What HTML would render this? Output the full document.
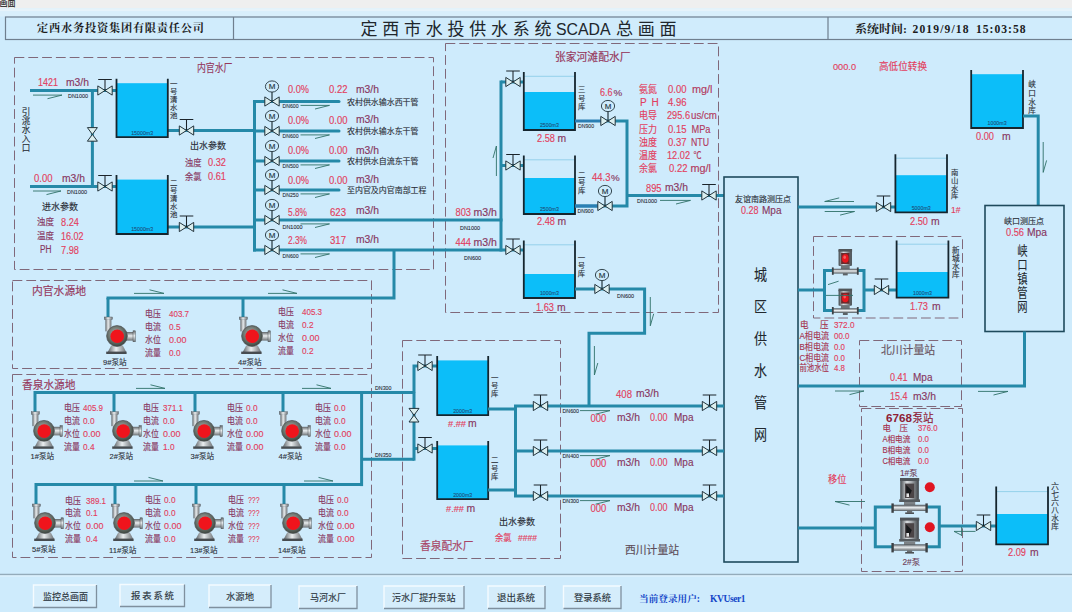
<!DOCTYPE html>
<html lang="zh-CN"><head><meta charset="utf-8"><title>定西市水投供水系统SCADA总画面</title>
<style>
html,body{margin:0;padding:0;background:#ceebfc;overflow:hidden}
svg{display:block;font-family:"Liberation Sans","Noto Sans CJK SC",sans-serif}
</style></head><body>
<svg width="1072" height="612" viewBox="0 0 1072 612">
<defs>
<linearGradient id="gh" x1="0" x2="1" y1="0" y2="0"><stop offset="0" stop-color="#5f6468"/><stop offset="0.45" stop-color="#e9edef"/><stop offset="1" stop-color="#6d7276"/></linearGradient>
<linearGradient id="gv" x1="0" x2="0" y1="0" y2="1"><stop offset="0" stop-color="#5f6468"/><stop offset="0.45" stop-color="#e9edef"/><stop offset="1" stop-color="#6d7276"/></linearGradient>
<radialGradient id="gc" cx="0.45" cy="0.4" r="0.6"><stop offset="0" stop-color="#b4bab6"/><stop offset="1" stop-color="#3c463f"/></radialGradient>
<linearGradient id="gm" x1="0" x2="1" y1="0" y2="0"><stop offset="0" stop-color="#4d5256"/><stop offset="0.35" stop-color="#d9dde0"/><stop offset="0.6" stop-color="#a9aeb2"/><stop offset="1" stop-color="#3f4448"/></linearGradient>

</defs>
<rect width="1072" height="612" fill="#ceebfc"/>
<rect width="1072" height="8.2" fill="#efefef"/>
<rect y="8.2" width="1072" height="3.3" fill="#e6f3fa"/>
<rect y="11.5" width="1072" height="5" fill="#d9effb"/>
<text x="-0.5" y="6" font-size="9.4" fill="#222" stroke="#222" stroke-width="0.15" textLength="16.2" lengthAdjust="spacingAndGlyphs">画面</text>
<rect x="5.5" y="17" width="1080" height="22.5" fill="#d0ecfc" stroke="#6f7f8e" stroke-width="1.2"/>
<path d="M233.5 17V39.5M828 17V39.5" stroke="#6f7f8e" stroke-width="1.2"/>
<text x="37" y="32.4" font-size="11.2" fill="#1c1c1c" textLength="167" lengthAdjust="spacing" font-weight="700" font-family='"Liberation Serif","Noto Serif CJK SC",serif'>定西水务投资集团有限责任公司</text>
<text x="360.4 382.15 403.9 425.65 447.4 469.15 490.9 512.65 534.4" y="34.6" font-size="17" fill="#20262c">定西市水投供水系统</text>
<text x="556" y="34.6" font-size="17" fill="#20262c" stroke="#20262c" stroke-width="0.05" textLength="54.5" lengthAdjust="spacingAndGlyphs">SCADA</text>
<text x="616 637.8 659.4" y="34.6" font-size="17" fill="#20262c">总画面</text>
<text x="855" y="33.2" font-size="10.8" fill="#1c1c1c" textLength="52" lengthAdjust="spacingAndGlyphs" font-weight="700" font-family='"Liberation Serif","Noto Serif CJK SC",serif'>系统时间:</text>
<text x="912.5" y="33.2" font-size="11.6" fill="#1c1c1c" textLength="56" lengthAdjust="spacing" font-weight="bold" font-family='"Liberation Serif","Noto Serif CJK SC",serif'>2019/9/18</text>
<text x="976" y="33.2" font-size="11.6" fill="#1c1c1c" textLength="49.5" lengthAdjust="spacing" font-weight="bold" font-family='"Liberation Serif","Noto Serif CJK SC",serif'>15:03:58</text>
<rect x="14.5" y="57.5" width="419.0" height="212.0" fill="none" stroke="#80687a" stroke-width="1" stroke-dasharray="9.8 4"/>
<rect x="445.5" y="43.5" width="273.0" height="269.0" fill="none" stroke="#80687a" stroke-width="1" stroke-dasharray="9.8 4"/>
<rect x="12.5" y="280.5" width="359.0" height="88.0" fill="none" stroke="#80687a" stroke-width="1" stroke-dasharray="9.8 4"/>
<rect x="12.5" y="374.5" width="359.0" height="183.0" fill="none" stroke="#80687a" stroke-width="1" stroke-dasharray="9.8 4"/>
<rect x="402.5" y="340.5" width="158.0" height="218.0" fill="none" stroke="#80687a" stroke-width="1" stroke-dasharray="9.8 4"/>
<rect x="813.5" y="236.5" width="149.0" height="81.5" fill="none" stroke="#80687a" stroke-width="1" stroke-dasharray="9.8 4"/>
<rect x="859.5" y="340.5" width="102.0" height="66.0" fill="none" stroke="#80687a" stroke-width="1" stroke-dasharray="9.8 4"/>
<rect x="861.5" y="408.5" width="101.0" height="163.0" fill="none" stroke="#80687a" stroke-width="1" stroke-dasharray="9.8 4"/>
<text x="197" y="72" font-size="11.6" fill="#96385c" stroke="#96385c" stroke-width="0.15" textLength="35.5" lengthAdjust="spacingAndGlyphs">内官水厂</text>
<polyline points="30,90.5 116,90.5" fill="none" stroke="#2589a8" stroke-width="3" stroke-linejoin="miter" stroke-linecap="butt"/>
<polyline points="30,186.5 116,186.5" fill="none" stroke="#2589a8" stroke-width="3" stroke-linejoin="miter" stroke-linecap="butt"/>
<polyline points="92.4,90.5 92.4,186.5" fill="none" stroke="#2589a8" stroke-width="3" stroke-linejoin="miter" stroke-linecap="butt"/>
<polyline points="168,130.5 254.5,130.5" fill="none" stroke="#2589a8" stroke-width="3" stroke-linejoin="miter" stroke-linecap="butt"/>
<polyline points="168,227 254.5,227" fill="none" stroke="#2589a8" stroke-width="3" stroke-linejoin="miter" stroke-linecap="butt"/>
<polyline points="254.5,100 254.5,251.5" fill="none" stroke="#2589a8" stroke-width="3" stroke-linejoin="miter" stroke-linecap="butt"/>
<polyline points="254.5,101.5 339,101.5" fill="none" stroke="#2589a8" stroke-width="3" stroke-linejoin="miter" stroke-linecap="round"/>
<polyline points="254.5,131 339,131" fill="none" stroke="#2589a8" stroke-width="3" stroke-linejoin="miter" stroke-linecap="round"/>
<polyline points="254.5,161 339,161" fill="none" stroke="#2589a8" stroke-width="3" stroke-linejoin="miter" stroke-linecap="round"/>
<polyline points="254.5,190 339,190" fill="none" stroke="#2589a8" stroke-width="3" stroke-linejoin="miter" stroke-linecap="round"/>
<polyline points="253,220 502.5,220" fill="none" stroke="#2589a8" stroke-width="3" stroke-linejoin="miter" stroke-linecap="butt"/>
<polyline points="253,250 523,250" fill="none" stroke="#2589a8" stroke-width="3" stroke-linejoin="miter" stroke-linecap="butt"/>
<polyline points="394,250 394,298 106.5,298" fill="none" stroke="#2589a8" stroke-width="3" stroke-linejoin="miter" stroke-linecap="butt"/>
<rect x="116.5" y="83.2" width="51.30000000000001" height="53.999999999999986" fill="#0cbef9"/>
<path d="M116.5 78.8V137.2H167.8V78.8" fill="none" stroke="#15252e" stroke-width="1.8" stroke-linejoin="miter"/>
<text x="142.15" y="134.6" font-size="5.6" fill="#1d4f7a" stroke="#1d4f7a" stroke-width="0.1" textLength="22" lengthAdjust="spacingAndGlyphs" text-anchor="middle">15000m3</text>
<rect x="116.5" y="179.6" width="51.30000000000001" height="54.400000000000006" fill="#0cbef9"/>
<path d="M116.5 175V234H167.8V175" fill="none" stroke="#15252e" stroke-width="1.8" stroke-linejoin="miter"/>
<text x="142.15" y="231.4" font-size="5.6" fill="#1d4f7a" stroke="#1d4f7a" stroke-width="0.1" textLength="22" lengthAdjust="spacingAndGlyphs" text-anchor="middle">15000m3</text>
<path d="M97.8 85.9L105 90.5L97.8 95.1ZM112.2 85.9L105 90.5L112.2 95.1Z" fill="#dcefef" stroke="#23343c" stroke-width="1" stroke-linejoin="miter"/>
<path d="M105 90.5V79.5M98.2 79.5H111.8" fill="none" stroke="#1b242a" stroke-width="1.05"/>
<path d="M97.8 181.9L105 186.5L97.8 191.1ZM112.2 181.9L105 186.5L112.2 191.1Z" fill="#dcefef" stroke="#23343c" stroke-width="1" stroke-linejoin="miter"/>
<path d="M105 186.5V175.5M98.2 175.5H111.8" fill="none" stroke="#1b242a" stroke-width="1.05"/>
<path d="M87.4 127.60000000000001L92.4 134.4L97.4 127.60000000000001ZM87.4 141.20000000000002L92.4 134.4L97.4 141.20000000000002Z" fill="#dcefef" stroke="#23343c" stroke-width="1" stroke-linejoin="miter"/>
<path d="M179.3 125.9L186.5 130.5L179.3 135.1ZM193.7 125.9L186.5 130.5L193.7 135.1Z" fill="#dcefef" stroke="#23343c" stroke-width="1" stroke-linejoin="miter"/>
<path d="M186.5 130.5V119.5M179.7 119.5H193.3" fill="none" stroke="#1b242a" stroke-width="1.05"/>
<path d="M179.3 222.4L186.5 227L179.3 231.6ZM193.7 222.4L186.5 227L193.7 231.6Z" fill="#dcefef" stroke="#23343c" stroke-width="1" stroke-linejoin="miter"/>
<path d="M186.5 227V216M179.7 216H193.3" fill="none" stroke="#1b242a" stroke-width="1.05"/>
<path d="M264.8 96.9L272 101.5L264.8 106.1ZM279.2 96.9L272 101.5L279.2 106.1Z" fill="#dcefef" stroke="#23343c" stroke-width="1" stroke-linejoin="miter"/>
<path d="M272 101.5V92.0" stroke="#23343c" stroke-width="1.2"/>
<ellipse cx="272" cy="86.5" rx="6.6" ry="5.6" fill="#ceebfc" stroke="#23343c" stroke-width="0.9"/>
<text x="272" y="89.4" font-size="8" fill="#22363f" stroke="#22363f" stroke-width="0.15" text-anchor="middle">M</text>
<path d="M264.8 126.4L272 131L264.8 135.6ZM279.2 126.4L272 131L279.2 135.6Z" fill="#dcefef" stroke="#23343c" stroke-width="1" stroke-linejoin="miter"/>
<path d="M272 131V121.5" stroke="#23343c" stroke-width="1.2"/>
<ellipse cx="272" cy="116" rx="6.6" ry="5.6" fill="#ceebfc" stroke="#23343c" stroke-width="0.9"/>
<text x="272" y="118.9" font-size="8" fill="#22363f" stroke="#22363f" stroke-width="0.15" text-anchor="middle">M</text>
<path d="M264.8 156.4L272 161L264.8 165.6ZM279.2 156.4L272 161L279.2 165.6Z" fill="#dcefef" stroke="#23343c" stroke-width="1" stroke-linejoin="miter"/>
<path d="M272 161V151.5" stroke="#23343c" stroke-width="1.2"/>
<ellipse cx="272" cy="146" rx="6.6" ry="5.6" fill="#ceebfc" stroke="#23343c" stroke-width="0.9"/>
<text x="272" y="148.9" font-size="8" fill="#22363f" stroke="#22363f" stroke-width="0.15" text-anchor="middle">M</text>
<path d="M264.8 185.4L272 190L264.8 194.6ZM279.2 185.4L272 190L279.2 194.6Z" fill="#dcefef" stroke="#23343c" stroke-width="1" stroke-linejoin="miter"/>
<path d="M272 190V180.5" stroke="#23343c" stroke-width="1.2"/>
<ellipse cx="272" cy="175" rx="6.6" ry="5.6" fill="#ceebfc" stroke="#23343c" stroke-width="0.9"/>
<text x="272" y="177.9" font-size="8" fill="#22363f" stroke="#22363f" stroke-width="0.15" text-anchor="middle">M</text>
<path d="M264.8 215.4L272 220L264.8 224.6ZM279.2 215.4L272 220L279.2 224.6Z" fill="#dcefef" stroke="#23343c" stroke-width="1" stroke-linejoin="miter"/>
<path d="M272 220V210.5" stroke="#23343c" stroke-width="1.2"/>
<ellipse cx="272" cy="205" rx="6.6" ry="5.6" fill="#ceebfc" stroke="#23343c" stroke-width="0.9"/>
<text x="272" y="207.9" font-size="8" fill="#22363f" stroke="#22363f" stroke-width="0.15" text-anchor="middle">M</text>
<path d="M264.8 245.4L272 250L264.8 254.6ZM279.2 245.4L272 250L279.2 254.6Z" fill="#dcefef" stroke="#23343c" stroke-width="1" stroke-linejoin="miter"/>
<path d="M272 250V240.5" stroke="#23343c" stroke-width="1.2"/>
<ellipse cx="272" cy="235" rx="6.6" ry="5.6" fill="#ceebfc" stroke="#23343c" stroke-width="0.9"/>
<text x="272" y="237.9" font-size="8" fill="#22363f" stroke="#22363f" stroke-width="0.15" text-anchor="middle">M</text>
<text x="38" y="86" font-size="10.3" fill="#e23f60" stroke="#e23f60" stroke-width="0.15" textLength="20" lengthAdjust="spacingAndGlyphs">1421</text>
<text x="66" y="86" font-size="10.4" fill="#883862" stroke="#883862" stroke-width="0.15" textLength="23" lengthAdjust="spacingAndGlyphs">m3/h</text>
<text x="34" y="181.8" font-size="10.3" fill="#e23f60" stroke="#e23f60" stroke-width="0.15" textLength="18.5" lengthAdjust="spacingAndGlyphs">0.00</text>
<text x="62" y="181.6" font-size="10.4" fill="#883862" stroke="#883862" stroke-width="0.15" textLength="23" lengthAdjust="spacingAndGlyphs">m3/h</text>
<text x="68" y="98" font-size="5.8" fill="#2b2f38" stroke="#2b2f38" stroke-width="0.1" textLength="20" lengthAdjust="spacingAndGlyphs">DN1000</text>
<text x="67" y="194.4" font-size="5.8" fill="#2b2f38" stroke="#2b2f38" stroke-width="0.1" textLength="20" lengthAdjust="spacingAndGlyphs">DN1000</text>
<path d="M33 95.1H62L47.5 98.69999999999999" fill="none" stroke="#2f7068" stroke-width="0.9" stroke-linejoin="miter"/>
<path d="M33 191H61L46.5 194.6" fill="none" stroke="#2f7068" stroke-width="0.9" stroke-linejoin="miter"/>
<text font-size="8.6" fill="#2b2f38" stroke="#2b2f38" stroke-width="0.12" text-anchor="middle"><tspan x="26" y="114.6">引</tspan><tspan x="26" y="123.7">洮</tspan><tspan x="26" y="132.8">水</tspan><tspan x="26" y="141.9">入</tspan><tspan x="26" y="151.0">口</tspan></text>
<text font-size="7.4" fill="#2b2f38" stroke="#2b2f38" stroke-width="0.12" text-anchor="middle"><tspan x="173.8" y="85.6">一</tspan><tspan x="173.8" y="93.6">号</tspan><tspan x="173.8" y="101.6">清</tspan><tspan x="173.8" y="109.6">水</tspan><tspan x="173.8" y="117.6">池</tspan></text>
<text font-size="7.4" fill="#2b2f38" stroke="#2b2f38" stroke-width="0.12" text-anchor="middle"><tspan x="173.8" y="184.7">二</tspan><tspan x="173.8" y="192.7">号</tspan><tspan x="173.8" y="200.7">清</tspan><tspan x="173.8" y="208.7">水</tspan><tspan x="173.8" y="216.7">池</tspan></text>
<text x="190" y="149.4" font-size="9.6" fill="#2b2f38" stroke="#2b2f38" stroke-width="0.15" textLength="36" lengthAdjust="spacingAndGlyphs">出水参数</text>
<text x="185" y="166" font-size="9.6" fill="#883862" stroke="#883862" stroke-width="0.15" textLength="16.5" lengthAdjust="spacingAndGlyphs">浊度</text>
<text x="208" y="166" font-size="10.3" fill="#e23f60" stroke="#e23f60" stroke-width="0.15" textLength="18" lengthAdjust="spacingAndGlyphs">0.32</text>
<text x="185" y="180" font-size="9.6" fill="#883862" stroke="#883862" stroke-width="0.15" textLength="16.5" lengthAdjust="spacingAndGlyphs">余氯</text>
<text x="208" y="180" font-size="10.3" fill="#e23f60" stroke="#e23f60" stroke-width="0.15" textLength="18" lengthAdjust="spacingAndGlyphs">0.61</text>
<text x="42" y="210" font-size="9.6" fill="#2b2f38" stroke="#2b2f38" stroke-width="0.15" textLength="36" lengthAdjust="spacingAndGlyphs">进水参数</text>
<text x="37" y="225.4" font-size="9.6" fill="#883862" stroke="#883862" stroke-width="0.15" textLength="17" lengthAdjust="spacingAndGlyphs">浊度</text>
<text x="61" y="225.6" font-size="10.3" fill="#e23f60" stroke="#e23f60" stroke-width="0.15" textLength="18" lengthAdjust="spacingAndGlyphs">8.24</text>
<text x="37" y="239.4" font-size="9.6" fill="#883862" stroke="#883862" stroke-width="0.15" textLength="17" lengthAdjust="spacingAndGlyphs">温度</text>
<text x="61" y="239.6" font-size="10.3" fill="#e23f60" stroke="#e23f60" stroke-width="0.15" textLength="22.5" lengthAdjust="spacingAndGlyphs">16.02</text>
<text x="40" y="252.8" font-size="10" fill="#883862" stroke="#883862" stroke-width="0.15" textLength="11.5" lengthAdjust="spacingAndGlyphs">PH</text>
<text x="61" y="253.6" font-size="10.3" fill="#e23f60" stroke="#e23f60" stroke-width="0.15" textLength="18" lengthAdjust="spacingAndGlyphs">7.98</text>
<text x="288" y="93.2" font-size="10.3" fill="#e23f60" stroke="#e23f60" stroke-width="0.15" textLength="21" lengthAdjust="spacingAndGlyphs">0.0%</text>
<text x="329" y="93.2" font-size="10.3" fill="#e23f60" stroke="#e23f60" stroke-width="0.15" textLength="18.5" lengthAdjust="spacingAndGlyphs">0.22</text>
<text x="356" y="92.60000000000001" font-size="10.4" fill="#883862" stroke="#883862" stroke-width="0.15" textLength="23" lengthAdjust="spacingAndGlyphs">m3/h</text>
<text x="282.5" y="108.3" font-size="5.6" fill="#2b2f38" stroke="#2b2f38" stroke-width="0.1" textLength="16" lengthAdjust="spacingAndGlyphs">DN600</text>
<path d="M300.5 105.4H329.5L315.0 109.0" fill="none" stroke="#2f7068" stroke-width="0.9" stroke-linejoin="miter"/>
<text x="347" y="104.7" font-size="8" fill="#2b2f38" stroke="#2b2f38" stroke-width="0.12" textLength="71.5" lengthAdjust="spacingAndGlyphs">农村供水输水西干管</text>
<text x="288" y="123.9" font-size="10.3" fill="#e23f60" stroke="#e23f60" stroke-width="0.15" textLength="21" lengthAdjust="spacingAndGlyphs">0.0%</text>
<text x="329" y="123.9" font-size="10.3" fill="#e23f60" stroke="#e23f60" stroke-width="0.15" textLength="18.5" lengthAdjust="spacingAndGlyphs">0.00</text>
<text x="356" y="123.30000000000001" font-size="10.4" fill="#883862" stroke="#883862" stroke-width="0.15" textLength="23" lengthAdjust="spacingAndGlyphs">m3/h</text>
<text x="282.5" y="137.8" font-size="5.6" fill="#2b2f38" stroke="#2b2f38" stroke-width="0.1" textLength="16" lengthAdjust="spacingAndGlyphs">DN600</text>
<path d="M300.5 134.9H329.5L315.0 138.5" fill="none" stroke="#2f7068" stroke-width="0.9" stroke-linejoin="miter"/>
<text x="347" y="134.2" font-size="8" fill="#2b2f38" stroke="#2b2f38" stroke-width="0.12" textLength="71.5" lengthAdjust="spacingAndGlyphs">农村供水输水东干管</text>
<text x="288" y="154.1" font-size="10.3" fill="#e23f60" stroke="#e23f60" stroke-width="0.15" textLength="21" lengthAdjust="spacingAndGlyphs">0.0%</text>
<text x="329" y="154.1" font-size="10.3" fill="#e23f60" stroke="#e23f60" stroke-width="0.15" textLength="18.5" lengthAdjust="spacingAndGlyphs">0.00</text>
<text x="356" y="153.5" font-size="10.4" fill="#883862" stroke="#883862" stroke-width="0.15" textLength="23" lengthAdjust="spacingAndGlyphs">m3/h</text>
<text x="282.5" y="167.8" font-size="5.6" fill="#2b2f38" stroke="#2b2f38" stroke-width="0.1" textLength="16" lengthAdjust="spacingAndGlyphs">DN500</text>
<path d="M300.5 164.9H329.5L315.0 168.5" fill="none" stroke="#2f7068" stroke-width="0.9" stroke-linejoin="miter"/>
<text x="347" y="164.2" font-size="8" fill="#2b2f38" stroke="#2b2f38" stroke-width="0.12" textLength="71.5" lengthAdjust="spacingAndGlyphs">农村供水自流东干管</text>
<text x="288" y="183.7" font-size="10.3" fill="#e23f60" stroke="#e23f60" stroke-width="0.15" textLength="21" lengthAdjust="spacingAndGlyphs">0.0%</text>
<text x="329" y="183.7" font-size="10.3" fill="#e23f60" stroke="#e23f60" stroke-width="0.15" textLength="18.5" lengthAdjust="spacingAndGlyphs">0.00</text>
<text x="356" y="183.1" font-size="10.4" fill="#883862" stroke="#883862" stroke-width="0.15" textLength="23" lengthAdjust="spacingAndGlyphs">m3/h</text>
<text x="282.5" y="196.8" font-size="5.6" fill="#2b2f38" stroke="#2b2f38" stroke-width="0.1" textLength="16" lengthAdjust="spacingAndGlyphs">DN250</text>
<path d="M300.5 193.9H329.5L315.0 197.5" fill="none" stroke="#2f7068" stroke-width="0.9" stroke-linejoin="miter"/>
<text x="347" y="193.2" font-size="8" fill="#2b2f38" stroke="#2b2f38" stroke-width="0.12" textLength="79.5" lengthAdjust="spacingAndGlyphs">至内官及内官南部工程</text>
<text x="288" y="215.8" font-size="10.3" fill="#e23f60" stroke="#e23f60" stroke-width="0.15" textLength="19" lengthAdjust="spacingAndGlyphs">5.8%</text>
<text x="330" y="215.8" font-size="10.3" fill="#e23f60" stroke="#e23f60" stroke-width="0.15" textLength="16" lengthAdjust="spacingAndGlyphs">623</text>
<text x="356" y="213.70000000000002" font-size="10.4" fill="#883862" stroke="#883862" stroke-width="0.15" textLength="23" lengthAdjust="spacingAndGlyphs">m3/h</text>
<text x="282.5" y="229.0" font-size="5.6" fill="#2b2f38" stroke="#2b2f38" stroke-width="0.1" textLength="20" lengthAdjust="spacingAndGlyphs">DN1000</text>
<path d="M300.5 223.9H329.5L315.0 227.5" fill="none" stroke="#2f7068" stroke-width="0.9" stroke-linejoin="miter"/>
<text x="288" y="243.6" font-size="10.3" fill="#e23f60" stroke="#e23f60" stroke-width="0.15" textLength="19" lengthAdjust="spacingAndGlyphs">2.3%</text>
<text x="330" y="243.6" font-size="10.3" fill="#e23f60" stroke="#e23f60" stroke-width="0.15" textLength="16" lengthAdjust="spacingAndGlyphs">317</text>
<text x="356" y="243.0" font-size="10.4" fill="#883862" stroke="#883862" stroke-width="0.15" textLength="23" lengthAdjust="spacingAndGlyphs">m3/h</text>
<text x="282.5" y="257.8" font-size="5.6" fill="#2b2f38" stroke="#2b2f38" stroke-width="0.1" textLength="16" lengthAdjust="spacingAndGlyphs">DN600</text>
<path d="M300.5 253.9H329.5L315.0 257.5" fill="none" stroke="#2f7068" stroke-width="0.9" stroke-linejoin="miter"/>
<text x="455.5" y="215.6" font-size="10.3" fill="#e23f60" stroke="#e23f60" stroke-width="0.15" textLength="15.5" lengthAdjust="spacingAndGlyphs">803</text>
<text x="473.5" y="215.6" font-size="10.4" fill="#883862" stroke="#883862" stroke-width="0.15" textLength="23.5" lengthAdjust="spacingAndGlyphs">m3/h</text>
<text x="455.5" y="245.6" font-size="10.3" fill="#e23f60" stroke="#e23f60" stroke-width="0.15" textLength="15.5" lengthAdjust="spacingAndGlyphs">444</text>
<text x="473.5" y="245.6" font-size="10.4" fill="#883862" stroke="#883862" stroke-width="0.15" textLength="23.5" lengthAdjust="spacingAndGlyphs">m3/h</text>
<text x="460" y="230.2" font-size="5.8" fill="#2b2f38" stroke="#2b2f38" stroke-width="0.1" textLength="20" lengthAdjust="spacingAndGlyphs">DN1000</text>
<text x="464" y="259.6" font-size="5.8" fill="#2b2f38" stroke="#2b2f38" stroke-width="0.1" textLength="17" lengthAdjust="spacingAndGlyphs">DN600</text>
<text x="555" y="61" font-size="11" fill="#96385c" stroke="#96385c" stroke-width="0.15" textLength="75.5" lengthAdjust="spacingAndGlyphs">张家河滩配水厂</text>
<polyline points="501,80.5 501,251.5" fill="none" stroke="#2589a8" stroke-width="3" stroke-linejoin="miter" stroke-linecap="butt"/>
<polyline points="501,82 523,82" fill="none" stroke="#2589a8" stroke-width="3" stroke-linejoin="miter" stroke-linecap="butt"/>
<polyline points="501,165.5 523,165.5" fill="none" stroke="#2589a8" stroke-width="3" stroke-linejoin="miter" stroke-linecap="butt"/>
<path d="M496.4 176V146L493.0 158" fill="none" stroke="#2f7068" stroke-width="0.9" stroke-linejoin="miter"/>
<rect x="523.8" y="92" width="51.200000000000045" height="38" fill="#0cbef9"/>
<path d="M523.8 76.3H575" stroke="#86c9e6" stroke-width="0.8"/>
<path d="M523.8 72V130H575V72" fill="none" stroke="#15252e" stroke-width="1.8" stroke-linejoin="miter"/>
<text x="549.4" y="127.4" font-size="5.6" fill="#1d4f7a" stroke="#1d4f7a" stroke-width="0.1" textLength="19" lengthAdjust="spacingAndGlyphs" text-anchor="middle">2500m3</text>
<rect x="523.8" y="178" width="51.200000000000045" height="36" fill="#0cbef9"/>
<path d="M523.8 159.8H575" stroke="#86c9e6" stroke-width="0.8"/>
<path d="M523.8 155.5V214H575V155.5" fill="none" stroke="#15252e" stroke-width="1.8" stroke-linejoin="miter"/>
<text x="549.4" y="211.4" font-size="5.6" fill="#1d4f7a" stroke="#1d4f7a" stroke-width="0.1" textLength="19" lengthAdjust="spacingAndGlyphs" text-anchor="middle">2500m3</text>
<rect x="523.8" y="274" width="51.200000000000045" height="24" fill="#0cbef9"/>
<path d="M523.8 244.8H575" stroke="#86c9e6" stroke-width="0.8"/>
<path d="M523.8 240.5V298H575V240.5" fill="none" stroke="#15252e" stroke-width="1.8" stroke-linejoin="miter"/>
<text x="549.4" y="295.4" font-size="5.6" fill="#1d4f7a" stroke="#1d4f7a" stroke-width="0.1" textLength="19" lengthAdjust="spacingAndGlyphs" text-anchor="middle">1000m3</text>
<path d="M505.8 77.4L513 82L505.8 86.6ZM520.2 77.4L513 82L520.2 86.6Z" fill="#dcefef" stroke="#23343c" stroke-width="1" stroke-linejoin="miter"/>
<path d="M513 82V71M506.2 71H519.8" fill="none" stroke="#1b242a" stroke-width="1.05"/>
<path d="M505.8 160.9L513 165.5L505.8 170.1ZM520.2 160.9L513 165.5L520.2 170.1Z" fill="#dcefef" stroke="#23343c" stroke-width="1" stroke-linejoin="miter"/>
<path d="M513 165.5V154.5M506.2 154.5H519.8" fill="none" stroke="#1b242a" stroke-width="1.05"/>
<path d="M505.8 245.4L513 250L505.8 254.6ZM520.2 245.4L513 250L520.2 254.6Z" fill="#dcefef" stroke="#23343c" stroke-width="1" stroke-linejoin="miter"/>
<path d="M513 250V239M506.2 239H519.8" fill="none" stroke="#1b242a" stroke-width="1.05"/>
<polyline points="575,121 601,121" fill="none" stroke="#2a7fb4" stroke-width="3" stroke-linejoin="miter" stroke-linecap="butt"/>
<polyline points="601,121 627,121 627,206 575,206" fill="none" stroke="#2589a8" stroke-width="3" stroke-linejoin="miter" stroke-linecap="butt"/>
<polyline points="575,206 598,206" fill="none" stroke="#2a7fb4" stroke-width="3" stroke-linejoin="miter" stroke-linecap="butt"/>
<polyline points="627,195.5 724,195.5" fill="none" stroke="#2589a8" stroke-width="3" stroke-linejoin="miter" stroke-linecap="butt"/>
<polyline points="575,289 644.6,289 644.6,333.2 589,333.2 589,406" fill="none" stroke="#2589a8" stroke-width="3" stroke-linejoin="miter" stroke-linecap="butt"/>
<path d="M600.8 116.4L608 121L600.8 125.6ZM615.2 116.4L608 121L615.2 125.6Z" fill="#dcefef" stroke="#23343c" stroke-width="1" stroke-linejoin="miter"/>
<path d="M608 121V111.5" stroke="#23343c" stroke-width="1.2"/>
<ellipse cx="608" cy="106" rx="6.6" ry="5.6" fill="#ceebfc" stroke="#23343c" stroke-width="0.9"/>
<text x="608" y="108.9" font-size="8" fill="#22363f" stroke="#22363f" stroke-width="0.15" text-anchor="middle">M</text>
<path d="M597.8 201.4L605 206L597.8 210.6ZM612.2 201.4L605 206L612.2 210.6Z" fill="#dcefef" stroke="#23343c" stroke-width="1" stroke-linejoin="miter"/>
<path d="M605 206V196.5" stroke="#23343c" stroke-width="1.2"/>
<ellipse cx="605" cy="191" rx="6.6" ry="5.6" fill="#ceebfc" stroke="#23343c" stroke-width="0.9"/>
<text x="605" y="193.9" font-size="8" fill="#22363f" stroke="#22363f" stroke-width="0.15" text-anchor="middle">M</text>
<path d="M594.8 284.4L602 289L594.8 293.6ZM609.2 284.4L602 289L609.2 293.6Z" fill="#dcefef" stroke="#23343c" stroke-width="1" stroke-linejoin="miter"/>
<path d="M602 289V280.5" stroke="#23343c" stroke-width="1.2"/>
<ellipse cx="602" cy="275" rx="6.6" ry="5.6" fill="#ceebfc" stroke="#23343c" stroke-width="0.9"/>
<text x="602" y="277.9" font-size="8" fill="#22363f" stroke="#22363f" stroke-width="0.15" text-anchor="middle">M</text>
<path d="M701.8 190.9L709 195.5L701.8 200.1ZM716.2 190.9L709 195.5L716.2 200.1Z" fill="#dcefef" stroke="#23343c" stroke-width="1" stroke-linejoin="miter"/>
<path d="M709 195.5V184.5M702.2 184.5H715.8" fill="none" stroke="#1b242a" stroke-width="1.05"/>
<text font-size="7.4" fill="#2b2f38" stroke="#2b2f38" stroke-width="0.12" text-anchor="middle"><tspan x="581.6" y="92.2">三</tspan><tspan x="581.6" y="100.5">号</tspan><tspan x="581.6" y="108.8">库</tspan></text>
<text font-size="7.4" fill="#2b2f38" stroke="#2b2f38" stroke-width="0.12" text-anchor="middle"><tspan x="581.6" y="176.8">二</tspan><tspan x="581.6" y="185.0">号</tspan><tspan x="581.6" y="193.2">库</tspan></text>
<text font-size="7.4" fill="#2b2f38" stroke="#2b2f38" stroke-width="0.12" text-anchor="middle"><tspan x="581.4" y="260.0">一</tspan><tspan x="581.4" y="268.2">号</tspan><tspan x="581.4" y="276.4">库</tspan></text>
<text x="578" y="127.6" font-size="5.6" fill="#2b2f38" stroke="#2b2f38" stroke-width="0.1" textLength="16" lengthAdjust="spacingAndGlyphs">DN900</text>
<text x="577.5" y="213.4" font-size="5.6" fill="#2b2f38" stroke="#2b2f38" stroke-width="0.1" textLength="16" lengthAdjust="spacingAndGlyphs">DN900</text>
<text x="617" y="297.6" font-size="5.6" fill="#2b2f38" stroke="#2b2f38" stroke-width="0.1" textLength="17" lengthAdjust="spacingAndGlyphs">DN600</text>
<text x="537" y="141.6" font-size="10.3" fill="#e23f60" stroke="#e23f60" stroke-width="0.15" textLength="18" lengthAdjust="spacingAndGlyphs">2.58</text>
<text x="557.5" y="141.6" font-size="10.4" fill="#883862" stroke="#883862" stroke-width="0.15">m</text>
<text x="537" y="224.8" font-size="10.3" fill="#e23f60" stroke="#e23f60" stroke-width="0.15" textLength="18" lengthAdjust="spacingAndGlyphs">2.48</text>
<text x="557.5" y="224.8" font-size="10.4" fill="#883862" stroke="#883862" stroke-width="0.15">m</text>
<text x="536" y="311.2" font-size="10.3" fill="#e23f60" stroke="#e23f60" stroke-width="0.15" textLength="18" lengthAdjust="spacingAndGlyphs">1.63</text>
<text x="557" y="311.2" font-size="10.4" fill="#883862" stroke="#883862" stroke-width="0.15">m</text>
<text x="600" y="96.4" font-size="10.3" fill="#e23f60" stroke="#e23f60" stroke-width="0.15" textLength="12.5" lengthAdjust="spacingAndGlyphs">6.6</text>
<text x="613.6" y="96.4" font-size="9.8" fill="#883862" stroke="#883862" stroke-width="0.15">%</text>
<text x="592" y="181.4" font-size="10.3" fill="#e23f60" stroke="#e23f60" stroke-width="0.15" textLength="18.5" lengthAdjust="spacingAndGlyphs">44.3</text>
<text x="611" y="181.4" font-size="9.8" fill="#883862" stroke="#883862" stroke-width="0.15">%</text>
<text x="639" y="92.8" font-size="10.3" fill="#e23f60" stroke="#e23f60" stroke-width="0.15" textLength="18" lengthAdjust="spacingAndGlyphs">氨氮</text>
<text x="668" y="92.8" font-size="10.3" fill="#e23f60" stroke="#e23f60" stroke-width="0.15" textLength="18.5" lengthAdjust="spacingAndGlyphs">0.00</text>
<text x="692" y="92.8" font-size="10.4" fill="#b23a60" stroke="#b23a60" stroke-width="0.15" textLength="20.5" lengthAdjust="spacingAndGlyphs">mg/l</text>
<text x="640" y="106" font-size="10" fill="#e23f60" stroke="#e23f60" stroke-width="0.15">P</text>
<text x="651.5" y="106" font-size="10" fill="#e23f60" stroke="#e23f60" stroke-width="0.15">H</text>
<text x="668" y="106" font-size="10.3" fill="#e23f60" stroke="#e23f60" stroke-width="0.15" textLength="18.5" lengthAdjust="spacingAndGlyphs">4.96</text>
<text x="639" y="119.4" font-size="10.3" fill="#e23f60" stroke="#e23f60" stroke-width="0.15" textLength="18" lengthAdjust="spacingAndGlyphs">电导</text>
<text x="667" y="119.4" font-size="10.3" fill="#e23f60" stroke="#e23f60" stroke-width="0.15" textLength="23" lengthAdjust="spacingAndGlyphs">295.6</text>
<text x="691" y="119.4" font-size="10.4" fill="#b23a60" stroke="#b23a60" stroke-width="0.15" textLength="26" lengthAdjust="spacingAndGlyphs">us/cm</text>
<text x="639" y="132.6" font-size="10.3" fill="#e23f60" stroke="#e23f60" stroke-width="0.15" textLength="18" lengthAdjust="spacingAndGlyphs">压力</text>
<text x="668" y="132.6" font-size="10.3" fill="#e23f60" stroke="#e23f60" stroke-width="0.15" textLength="18.5" lengthAdjust="spacingAndGlyphs">0.15</text>
<text x="691.5" y="132.6" font-size="10.4" fill="#b23a60" stroke="#b23a60" stroke-width="0.15" textLength="19" lengthAdjust="spacingAndGlyphs">MPa</text>
<text x="639" y="145.8" font-size="10.3" fill="#e23f60" stroke="#e23f60" stroke-width="0.15" textLength="18" lengthAdjust="spacingAndGlyphs">浊度</text>
<text x="668" y="145.8" font-size="10.3" fill="#e23f60" stroke="#e23f60" stroke-width="0.15" textLength="18.5" lengthAdjust="spacingAndGlyphs">0.37</text>
<text x="691" y="145.8" font-size="10.4" fill="#b23a60" stroke="#b23a60" stroke-width="0.15" textLength="18" lengthAdjust="spacingAndGlyphs">NTU</text>
<text x="639" y="158.8" font-size="10.3" fill="#e23f60" stroke="#e23f60" stroke-width="0.15" textLength="18" lengthAdjust="spacingAndGlyphs">温度</text>
<text x="667" y="158.8" font-size="10.3" fill="#e23f60" stroke="#e23f60" stroke-width="0.15" textLength="23" lengthAdjust="spacingAndGlyphs">12.02</text>
<text x="693.5" y="158.8" font-size="10.4" fill="#b23a60" stroke="#b23a60" stroke-width="0.15" textLength="8" lengthAdjust="spacingAndGlyphs">℃</text>
<text x="639" y="172" font-size="10.3" fill="#e23f60" stroke="#e23f60" stroke-width="0.15" textLength="18" lengthAdjust="spacingAndGlyphs">余氯</text>
<text x="669" y="172" font-size="10.3" fill="#e23f60" stroke="#e23f60" stroke-width="0.15" textLength="18.5" lengthAdjust="spacingAndGlyphs">0.22</text>
<text x="690.5" y="172" font-size="10.4" fill="#b23a60" stroke="#b23a60" stroke-width="0.15" textLength="20.5" lengthAdjust="spacingAndGlyphs">mg/l</text>
<text x="646" y="191.6" font-size="10.3" fill="#e23f60" stroke="#e23f60" stroke-width="0.15" textLength="15.5" lengthAdjust="spacingAndGlyphs">895</text>
<text x="665" y="191.4" font-size="10.4" fill="#883862" stroke="#883862" stroke-width="0.15" textLength="23" lengthAdjust="spacingAndGlyphs">m3/h</text>
<text x="637" y="202.8" font-size="5.8" fill="#2b2f38" stroke="#2b2f38" stroke-width="0.1" textLength="20" lengthAdjust="spacingAndGlyphs">DN1000</text>
<path d="M660 200.4H690.5L676.0 204.0" fill="none" stroke="#2f7068" stroke-width="0.9" stroke-linejoin="miter"/>
<path d="M650.3 297V325.8L653.6999999999999 313.8" fill="none" stroke="#2f7068" stroke-width="0.9" stroke-linejoin="miter"/>
<path d="M594.4 346V375L597.8 363" fill="none" stroke="#2f7068" stroke-width="0.9" stroke-linejoin="miter"/>
<rect x="724" y="177" width="74" height="385" fill="#ceebfc" stroke="#1f4a5c" stroke-width="1.6"/>
<text x="735" y="202.4" font-size="8.2" fill="#2b2f38" stroke="#2b2f38" stroke-width="0.12" textLength="56" lengthAdjust="spacingAndGlyphs">友谊南路测压点</text>
<text x="741" y="214.4" font-size="10.3" fill="#e23f60" stroke="#e23f60" stroke-width="0.15" textLength="17.5" lengthAdjust="spacingAndGlyphs">0.28</text>
<text x="762" y="214.4" font-size="10.4" fill="#883862" stroke="#883862" stroke-width="0.15" textLength="19.5" lengthAdjust="spacingAndGlyphs">Mpa</text>
<text font-size="14.8" fill="#22282e" stroke="#22282e" stroke-width="0.08" text-anchor="middle" transform="translate(760.6 0) scale(0.88 1)"><tspan x="0" y="280">城</tspan><tspan x="0" y="312">区</tspan><tspan x="0" y="344">供</tspan><tspan x="0" y="376">水</tspan><tspan x="0" y="408">管</tspan><tspan x="0" y="440">网</tspan></text>
<text x="833" y="69.8" font-size="9.6" fill="#e23f60" stroke="#e23f60" stroke-width="0.15" textLength="23" lengthAdjust="spacingAndGlyphs">000.0</text>
<text x="879" y="70.4" font-size="10" fill="#e23f60" stroke="#e23f60" stroke-width="0.15" textLength="48" lengthAdjust="spacingAndGlyphs">高低位转换</text>
<rect x="971.2" y="74.2" width="51.799999999999955" height="53.8" fill="#0cbef9"/>
<path d="M971.2 70V128H1023V70" fill="none" stroke="#15252e" stroke-width="1.8" stroke-linejoin="miter"/>
<text x="997.1" y="125.4" font-size="5.6" fill="#1d4f7a" stroke="#1d4f7a" stroke-width="0.1" textLength="19" lengthAdjust="spacingAndGlyphs" text-anchor="middle">1000m3</text>
<text font-size="7.6" fill="#2b2f38" stroke="#2b2f38" stroke-width="0.12" text-anchor="middle"><tspan x="1032" y="87.4">峡</tspan><tspan x="1032" y="96.0">口</tspan><tspan x="1032" y="104.6">水</tspan><tspan x="1032" y="113.2">库</tspan></text>
<polyline points="1023,116 1038.2,116 1038.2,206" fill="none" stroke="#2589a8" stroke-width="3" stroke-linejoin="miter" stroke-linecap="butt"/>
<text x="976" y="139.8" font-size="10.3" fill="#e23f60" stroke="#e23f60" stroke-width="0.15" textLength="18" lengthAdjust="spacingAndGlyphs">0.00</text>
<text x="1002" y="139.8" font-size="10.4" fill="#883862" stroke="#883862" stroke-width="0.15">m</text>
<path d="M1043.2 142V172.4L1046.6000000000001 160.4" fill="none" stroke="#2f7068" stroke-width="0.9" stroke-linejoin="miter"/>
<polyline points="798,207 895,207" fill="none" stroke="#2589a8" stroke-width="3" stroke-linejoin="miter" stroke-linecap="butt"/>
<rect x="895.4" y="175.2" width="51.60000000000002" height="37.20000000000002" fill="#0cbef9"/>
<path d="M895.4 158.2H947" stroke="#86c9e6" stroke-width="0.8"/>
<path d="M895.4 154.2V212.4H947V154.2" fill="none" stroke="#15252e" stroke-width="1.8" stroke-linejoin="miter"/>
<text x="921.2" y="209.8" font-size="5.6" fill="#1d4f7a" stroke="#1d4f7a" stroke-width="0.1" textLength="19" lengthAdjust="spacingAndGlyphs" text-anchor="middle">5000m3</text>
<path d="M876.3 202.4L883.5 207L876.3 211.6ZM890.7 202.4L883.5 207L890.7 211.6Z" fill="#dcefef" stroke="#23343c" stroke-width="1" stroke-linejoin="miter"/>
<path d="M883.5 207V196M876.7 196H890.3" fill="none" stroke="#1b242a" stroke-width="1.05"/>
<path d="M854 201.5H824.7L839.2 197.9" fill="none" stroke="#2f7068" stroke-width="0.9" stroke-linejoin="miter"/>
<path d="M824.7 211.5H854.6L840.1 215.1" fill="none" stroke="#2f7068" stroke-width="0.9" stroke-linejoin="miter"/>
<text font-size="7.4" fill="#2b2f38" stroke="#2b2f38" stroke-width="0.12" text-anchor="middle"><tspan x="954.6" y="175.0">南</tspan><tspan x="954.6" y="182.8">山</tspan><tspan x="954.6" y="190.6">水</tspan><tspan x="954.6" y="198.4">库</tspan></text>
<text x="951" y="212.6" font-size="8.6" fill="#e23f60" stroke="#e23f60" stroke-width="0.12">1#</text>
<text x="910" y="224.8" font-size="10.3" fill="#e23f60" stroke="#e23f60" stroke-width="0.15" textLength="18" lengthAdjust="spacingAndGlyphs">2.50</text>
<text x="931" y="224.8" font-size="10.4" fill="#883862" stroke="#883862" stroke-width="0.15">m</text>
<rect x="985" y="205.5" width="79" height="126" fill="#ceebfc" stroke="#1f4a5c" stroke-width="1.6"/>
<text x="1004" y="224" font-size="8.2" fill="#2b2f38" stroke="#2b2f38" stroke-width="0.12" textLength="40" lengthAdjust="spacingAndGlyphs">峡口测压点</text>
<text x="1006" y="236.4" font-size="10.3" fill="#e23f60" stroke="#e23f60" stroke-width="0.15" textLength="18" lengthAdjust="spacingAndGlyphs">0.56</text>
<text x="1027" y="236.4" font-size="10.4" fill="#883862" stroke="#883862" stroke-width="0.15" textLength="20" lengthAdjust="spacingAndGlyphs">Mpa</text>
<text font-size="12.6" fill="#22282e" stroke="#22282e" stroke-width="0.08" text-anchor="middle" transform="translate(1022.4 0) scale(0.82 1)"><tspan x="0" y="255.2">峡</tspan><tspan x="0" y="269.2">口</tspan><tspan x="0" y="283.2">镇</tspan><tspan x="0" y="297.2">管</tspan><tspan x="0" y="311.2">网</tspan></text>
<polyline points="1024.5,331.5 1024.5,386 798,386" fill="none" stroke="#2589a8" stroke-width="3" stroke-linejoin="miter" stroke-linecap="butt"/>
<polyline points="798,290 824.5,290" fill="none" stroke="#2589a8" stroke-width="3" stroke-linejoin="miter" stroke-linecap="butt"/>
<polyline points="864,290 896,290" fill="none" stroke="#2589a8" stroke-width="3" stroke-linejoin="miter" stroke-linecap="butt"/>
<rect x="824.5" y="270.5" width="39.5" height="40" fill="none" stroke="#2589a8" stroke-width="3"/>
<rect x="896.6" y="272" width="51.799999999999955" height="25.600000000000023" fill="#0cbef9"/>
<path d="M896.6 244.2H948.4" stroke="#86c9e6" stroke-width="0.8"/>
<path d="M896.6 240.6V297.6H948.4V240.6" fill="none" stroke="#15252e" stroke-width="1.8" stroke-linejoin="miter"/>
<text x="922.5" y="295.0" font-size="5.6" fill="#1d4f7a" stroke="#1d4f7a" stroke-width="0.1" textLength="19" lengthAdjust="spacingAndGlyphs" text-anchor="middle">1000m3</text>
<path d="M874.3 285.4L881.5 290L874.3 294.6ZM888.7 285.4L881.5 290L888.7 294.6Z" fill="#dcefef" stroke="#23343c" stroke-width="1" stroke-linejoin="miter"/>
<path d="M881.5 290V279M874.7 279H888.3" fill="none" stroke="#1b242a" stroke-width="1.05"/>
<text font-size="7.6" fill="#2b2f38" stroke="#2b2f38" stroke-width="0.12" text-anchor="middle"><tspan x="955.8" y="252.6">新</tspan><tspan x="955.8" y="260.6">城</tspan><tspan x="955.8" y="268.6">水</tspan><tspan x="955.8" y="276.6">库</tspan></text>
<text x="910" y="309.6" font-size="10.3" fill="#e23f60" stroke="#e23f60" stroke-width="0.15" textLength="18" lengthAdjust="spacingAndGlyphs">1.73</text>
<text x="932" y="309.6" font-size="10.4" fill="#883862" stroke="#883862" stroke-width="0.15">m</text>
<rect x="838.9" y="250.5" width="12.8" height="15.2" fill="url(#gm)" stroke="#3c4145" stroke-width="0.5"/>
<rect x="838.5" y="249" width="13.6" height="2.6" fill="#51565a"/>
<rect x="841.0999999999999" y="253" width="8.4" height="11" fill="#6a2a2c"/>
<ellipse cx="845.3" cy="258.4" rx="3.3" ry="4.3" fill="#e8161e"/>
<ellipse cx="844.6999999999999" cy="257.2" rx="1.3" ry="1.8" fill="#f4605e"/>
<rect x="840.9" y="265.7" width="8.8" height="3.4" fill="#6f7478"/>
<rect x="832.9" y="269" width="24.8" height="4.2" fill="url(#gv)" stroke="#3c4145" stroke-width="0.4"/>
<rect x="831.9" y="267.4" width="1.8" height="7.4" fill="#3c4145"/><rect x="856.9" y="267.4" width="1.8" height="7.4" fill="#3c4145"/>
<rect x="842.9" y="273.2" width="4.8" height="2.2" fill="#5c6165"/>
<rect x="838.9" y="290.1" width="12.8" height="15.2" fill="url(#gm)" stroke="#3c4145" stroke-width="0.5"/>
<rect x="838.5" y="288.6" width="13.6" height="2.6" fill="#51565a"/>
<rect x="841.0999999999999" y="292.6" width="8.4" height="11" fill="#6a2a2c"/>
<ellipse cx="845.3" cy="298.0" rx="3.3" ry="4.3" fill="#e8161e"/>
<ellipse cx="844.6999999999999" cy="296.8" rx="1.3" ry="1.8" fill="#f4605e"/>
<rect x="840.9" y="305.3" width="8.8" height="3.4" fill="#6f7478"/>
<rect x="832.9" y="308.6" width="24.8" height="4.2" fill="url(#gv)" stroke="#3c4145" stroke-width="0.4"/>
<rect x="831.9" y="307.0" width="1.8" height="7.4" fill="#3c4145"/><rect x="856.9" y="307.0" width="1.8" height="7.4" fill="#3c4145"/>
<rect x="842.9" y="312.8" width="4.8" height="2.2" fill="#5c6165"/>
<path d="M828 284.6L838.6 281.2M826 295.4H853" fill="none" stroke="#2f7068" stroke-width="0.9"/>
<text x="800" y="327.6" font-size="8.6" fill="#a5304c" stroke="#a5304c" stroke-width="0.12">电</text>
<text x="820" y="327.6" font-size="8.6" fill="#a5304c" stroke="#a5304c" stroke-width="0.12">压</text>
<text x="834" y="327.6" font-size="8.8" fill="#e23f60" stroke="#e23f60" stroke-width="0.15" textLength="20.5" lengthAdjust="spacingAndGlyphs">372.0</text>
<text x="799.5" y="338.6" font-size="8.6" fill="#a5304c" stroke="#a5304c" stroke-width="0.12" textLength="29.5" lengthAdjust="spacingAndGlyphs">A相电流</text>
<text x="834" y="338.6" font-size="8.8" fill="#e23f60" stroke="#e23f60" stroke-width="0.15" textLength="15.5" lengthAdjust="spacingAndGlyphs">00.0</text>
<text x="799.5" y="349.6" font-size="8.6" fill="#a5304c" stroke="#a5304c" stroke-width="0.12" textLength="29.5" lengthAdjust="spacingAndGlyphs">B相电流</text>
<text x="834" y="349.6" font-size="8.8" fill="#e23f60" stroke="#e23f60" stroke-width="0.15" textLength="11" lengthAdjust="spacingAndGlyphs">0.0</text>
<text x="799.5" y="360.6" font-size="8.6" fill="#a5304c" stroke="#a5304c" stroke-width="0.12" textLength="29.5" lengthAdjust="spacingAndGlyphs">C相电流</text>
<text x="834" y="360.6" font-size="8.8" fill="#e23f60" stroke="#e23f60" stroke-width="0.15" textLength="11" lengthAdjust="spacingAndGlyphs">0.0</text>
<text x="799.5" y="370.6" font-size="8.6" fill="#a5304c" stroke="#a5304c" stroke-width="0.12" textLength="29.5" lengthAdjust="spacingAndGlyphs">前池水位</text>
<text x="834" y="370.6" font-size="8.8" fill="#e23f60" stroke="#e23f60" stroke-width="0.15" textLength="11" lengthAdjust="spacingAndGlyphs">4.8</text>
<text x="881" y="354.2" font-size="11.4" fill="#6a5562" stroke="#6a5562" stroke-width="0.15" textLength="54" lengthAdjust="spacingAndGlyphs">北川计量站</text>
<text x="890" y="380.6" font-size="10.3" fill="#e23f60" stroke="#e23f60" stroke-width="0.15" textLength="17.5" lengthAdjust="spacingAndGlyphs">0.41</text>
<text x="913" y="380.6" font-size="10.4" fill="#883862" stroke="#883862" stroke-width="0.15" textLength="19.5" lengthAdjust="spacingAndGlyphs">Mpa</text>
<text x="890" y="399.6" font-size="10.3" fill="#e23f60" stroke="#e23f60" stroke-width="0.15" textLength="17.5" lengthAdjust="spacingAndGlyphs">15.4</text>
<text x="913" y="399.6" font-size="10.4" fill="#883862" stroke="#883862" stroke-width="0.15" textLength="23" lengthAdjust="spacingAndGlyphs">m3/h</text>
<path d="M835 391H864L849.5 394.6" fill="none" stroke="#2f7068" stroke-width="0.9" stroke-linejoin="miter"/>
<path d="M978 391.4H1008L993.5 395.0" fill="none" stroke="#2f7068" stroke-width="0.9" stroke-linejoin="miter"/>
<text x="886" y="422.4" font-size="11.6" fill="#8e2136" textLength="26" lengthAdjust="spacingAndGlyphs" font-weight="bold">6768</text>
<text x="912.6" y="422.4" font-size="11.4" fill="#8e2136" stroke="#8e2136" stroke-width="0.15" textLength="21" lengthAdjust="spacingAndGlyphs">泵站</text>
<text x="882.6" y="431.4" font-size="8.4" fill="#a5304c" stroke="#a5304c" stroke-width="0.12">电</text>
<text x="899.4" y="431.4" font-size="8.4" fill="#a5304c" stroke="#a5304c" stroke-width="0.12">压</text>
<text x="918" y="431.4" font-size="8.8" fill="#e23f60" stroke="#e23f60" stroke-width="0.15" textLength="19.5" lengthAdjust="spacingAndGlyphs">376.0</text>
<text x="882.4" y="442.4" font-size="8.4" fill="#a5304c" stroke="#a5304c" stroke-width="0.12" textLength="28" lengthAdjust="spacingAndGlyphs">A相电流</text>
<text x="918" y="442.4" font-size="8.8" fill="#e23f60" stroke="#e23f60" stroke-width="0.15" textLength="11" lengthAdjust="spacingAndGlyphs">0.0</text>
<text x="882.4" y="453.4" font-size="8.4" fill="#a5304c" stroke="#a5304c" stroke-width="0.12" textLength="28" lengthAdjust="spacingAndGlyphs">B相电流</text>
<text x="918" y="453.4" font-size="8.8" fill="#e23f60" stroke="#e23f60" stroke-width="0.15" textLength="11" lengthAdjust="spacingAndGlyphs">0.0</text>
<text x="882.4" y="464.4" font-size="8.4" fill="#a5304c" stroke="#a5304c" stroke-width="0.12" textLength="28" lengthAdjust="spacingAndGlyphs">C相电流</text>
<text x="918" y="464.4" font-size="8.8" fill="#e23f60" stroke="#e23f60" stroke-width="0.15" textLength="11" lengthAdjust="spacingAndGlyphs">0.0</text>
<text x="828" y="483" font-size="10" fill="#e23f60" stroke="#e23f60" stroke-width="0.15" textLength="18.5" lengthAdjust="spacingAndGlyphs">移位</text>
<polyline points="798,528 875,528" fill="none" stroke="#2589a8" stroke-width="3" stroke-linejoin="miter" stroke-linecap="butt"/>
<rect x="875.3" y="507" width="64" height="39.8" fill="none" stroke="#2589a8" stroke-width="3"/>
<polyline points="939.3,526 996,526" fill="none" stroke="#2589a8" stroke-width="3" stroke-linejoin="miter" stroke-linecap="butt"/>
<path d="M865 501.5H835L849.5 505.1" fill="none" stroke="#2f7068" stroke-width="0.9" stroke-linejoin="miter"/>
<rect x="900.6" y="480" width="18" height="20.4" fill="url(#gm)" stroke="#3c4145" stroke-width="0.5"/>
<rect x="900.0" y="478" width="19.2" height="3" fill="#50555a"/>
<rect x="905.0" y="483.6" width="9.2" height="14.4" fill="#4b4547"/>
<path d="M906.2 485l5.6 5.4l-2.6 5.8h-3z" fill="#17191b"/>
<rect x="906.4" y="493.4" width="2.6" height="3.6" fill="#e6e6e6"/>
<rect x="899.2" y="499.4" width="20.8" height="2.6" fill="#555a5e"/>
<rect x="904.0" y="502" width="11.2" height="3.2" fill="#7d8286"/>
<rect x="892.6" y="505" width="34" height="5.8" fill="url(#gv)" stroke="#3c4145" stroke-width="0.4"/>
<rect x="891.4" y="503.4" width="2.4" height="9.4" fill="#3c4145"/><rect x="925.4" y="503.4" width="2.4" height="9.4" fill="#3c4145"/>
<rect x="907.0" y="510.8" width="5.2" height="2" fill="#6a6f73"/><rect x="905.2" y="512.4" width="8.8" height="1.6" fill="#4c5155"/>
<rect x="900.6" y="519.6" width="18" height="20.4" fill="url(#gm)" stroke="#3c4145" stroke-width="0.5"/>
<rect x="900.0" y="517.6" width="19.2" height="3" fill="#50555a"/>
<rect x="905.0" y="523.2" width="9.2" height="14.4" fill="#4b4547"/>
<path d="M906.2 524.6l5.6 5.4l-2.6 5.8h-3z" fill="#17191b"/>
<rect x="906.4" y="533.0" width="2.6" height="3.6" fill="#e6e6e6"/>
<rect x="899.2" y="539.0" width="20.8" height="2.6" fill="#555a5e"/>
<rect x="904.0" y="541.6" width="11.2" height="3.2" fill="#7d8286"/>
<rect x="892.6" y="544.6" width="34" height="5.8" fill="url(#gv)" stroke="#3c4145" stroke-width="0.4"/>
<rect x="891.4" y="543.0" width="2.4" height="9.4" fill="#3c4145"/><rect x="925.4" y="543.0" width="2.4" height="9.4" fill="#3c4145"/>
<rect x="907.0" y="550.4" width="5.2" height="2" fill="#6a6f73"/><rect x="905.2" y="552.0" width="8.8" height="1.6" fill="#4c5155"/>
<circle cx="929.8" cy="487.3" r="5" fill="#e01522"/><circle cx="929.8" cy="527.3" r="5" fill="#e01522"/>
<text x="900" y="476" font-size="8.4" fill="#6e3e58" stroke="#6e3e58" stroke-width="0.12" textLength="17.5" lengthAdjust="spacingAndGlyphs">1#泵</text>
<text x="902.5" y="565" font-size="8.4" fill="#6e3e58" stroke="#6e3e58" stroke-width="0.12" textLength="17.5" lengthAdjust="spacingAndGlyphs">2#泵</text>
<path d="M976.3 521.4L983.5 526L976.3 530.6ZM990.7 521.4L983.5 526L990.7 530.6Z" fill="#dcefef" stroke="#23343c" stroke-width="1" stroke-linejoin="miter"/>
<path d="M983.5 526V515M976.7 515H990.3" fill="none" stroke="#1b242a" stroke-width="1.05"/>
<rect x="996.2" y="514" width="51.799999999999955" height="30.399999999999977" fill="#0cbef9"/>
<path d="M996.2 491.6H1048" stroke="#86c9e6" stroke-width="0.8"/>
<path d="M996.2 486.6V544.4H1048V486.6" fill="none" stroke="#15252e" stroke-width="1.8" stroke-linejoin="miter"/>
<text font-size="7.6" fill="#2b2f38" stroke="#2b2f38" stroke-width="0.12" text-anchor="middle"><tspan x="1055" y="489.2">六</tspan><tspan x="1055" y="497.1">七</tspan><tspan x="1055" y="505.0">六</tspan><tspan x="1055" y="512.9">八</tspan><tspan x="1055" y="520.8">水</tspan><tspan x="1055" y="528.7">库</tspan></text>
<text x="1008" y="556.4" font-size="10.3" fill="#e23f60" stroke="#e23f60" stroke-width="0.15" textLength="18" lengthAdjust="spacingAndGlyphs">2.09</text>
<text x="1030" y="556.4" font-size="10.4" fill="#883862" stroke="#883862" stroke-width="0.15">m</text>
<path d="M975.5 531.4H954L961.5 535.2M961.6 527V536" fill="none" stroke="#2f7068" stroke-width="0.9"/>
<text x="32" y="295.4" font-size="11.6" fill="#96385c" stroke="#96385c" stroke-width="0.15" textLength="54" lengthAdjust="spacingAndGlyphs">内官水源地</text>
<path d="M134 293.4H164L149.5 289.79999999999995" fill="none" stroke="#2f7068" stroke-width="0.9" stroke-linejoin="miter"/>
<path d="M268 293.4H297L282.5 289.79999999999995" fill="none" stroke="#2f7068" stroke-width="0.9" stroke-linejoin="miter"/>
<polyline points="108,298 108,318" fill="none" stroke="#2589a8" stroke-width="3" stroke-linejoin="miter" stroke-linecap="butt"/>
<polyline points="243,298 243,318" fill="none" stroke="#2589a8" stroke-width="3" stroke-linejoin="miter" stroke-linecap="butt"/>
<g transform="translate(108 317)"><rect x="-3.6" y="0" width="8" height="2.6" fill="url(#gh)" stroke="#4a4f54" stroke-width="0.4"/>
 <rect x="-2.6" y="2.4" width="6" height="12" fill="url(#gh)"/>
 <rect x="14" y="15" width="12.4" height="8.6" fill="url(#gv)"/>
 <rect x="25" y="13.8" width="2.4" height="11" fill="url(#gv)" stroke="#3f4448" stroke-width="0.4"/>
 <path d="M3.2 28.5h11.6l3.4 6.4h-18.4z" fill="url(#gh)"/>
 <rect x="-1.8" y="34.6" width="20.4" height="2.4" fill="#474c50"/>
 <circle cx="9" cy="19" r="10.4" fill="url(#gc)" stroke="#4a4f52" stroke-width="0.7"/>
 <circle cx="9.2" cy="19.3" r="6.8" fill="#f0141c"/></g>
<g transform="translate(243 317)"><rect x="-3.6" y="0" width="8" height="2.6" fill="url(#gh)" stroke="#4a4f54" stroke-width="0.4"/>
 <rect x="-2.6" y="2.4" width="6" height="12" fill="url(#gh)"/>
 <rect x="14" y="15" width="12.4" height="8.6" fill="url(#gv)"/>
 <rect x="25" y="13.8" width="2.4" height="11" fill="url(#gv)" stroke="#3f4448" stroke-width="0.4"/>
 <path d="M3.2 28.5h11.6l3.4 6.4h-18.4z" fill="url(#gh)"/>
 <rect x="-1.8" y="34.6" width="20.4" height="2.4" fill="#474c50"/>
 <circle cx="9" cy="19" r="10.4" fill="url(#gc)" stroke="#4a4f52" stroke-width="0.7"/>
 <circle cx="9.2" cy="19.3" r="6.8" fill="#f0141c"/></g>
<text x="103" y="364.6" font-size="8" fill="#2b2f38" stroke="#2b2f38" stroke-width="0.12" textLength="23.5" lengthAdjust="spacingAndGlyphs">9#泵站</text>
<text x="238" y="364.6" font-size="8" fill="#2b2f38" stroke="#2b2f38" stroke-width="0.12" textLength="23.5" lengthAdjust="spacingAndGlyphs">4#泵站</text>
<text x="145" y="316.5" font-size="8.8" fill="#883862" stroke="#883862" stroke-width="0.15" textLength="15.8" lengthAdjust="spacingAndGlyphs">电压</text>
<text x="169" y="316.5" font-size="9.6" fill="#e23f60" stroke="#e23f60" stroke-width="0.15" textLength="20" lengthAdjust="spacingAndGlyphs">403.7</text>
<text x="145" y="329.5" font-size="8.8" fill="#883862" stroke="#883862" stroke-width="0.15" textLength="15.8" lengthAdjust="spacingAndGlyphs">电流</text>
<text x="169" y="329.5" font-size="9.6" fill="#e23f60" stroke="#e23f60" stroke-width="0.15" textLength="11.5" lengthAdjust="spacingAndGlyphs">0.5</text>
<text x="145" y="342.5" font-size="8.8" fill="#883862" stroke="#883862" stroke-width="0.15" textLength="15.8" lengthAdjust="spacingAndGlyphs">水位</text>
<text x="169" y="342.5" font-size="9.6" fill="#e23f60" stroke="#e23f60" stroke-width="0.15" textLength="17.5" lengthAdjust="spacingAndGlyphs">0.00</text>
<text x="145" y="355.5" font-size="8.8" fill="#883862" stroke="#883862" stroke-width="0.15" textLength="15.8" lengthAdjust="spacingAndGlyphs">流量</text>
<text x="169" y="355.5" font-size="9.6" fill="#e23f60" stroke="#e23f60" stroke-width="0.15" textLength="11.5" lengthAdjust="spacingAndGlyphs">0.0</text>
<text x="278" y="315.0" font-size="8.8" fill="#883862" stroke="#883862" stroke-width="0.15" textLength="15.8" lengthAdjust="spacingAndGlyphs">电压</text>
<text x="302" y="315.0" font-size="9.6" fill="#e23f60" stroke="#e23f60" stroke-width="0.15" textLength="20" lengthAdjust="spacingAndGlyphs">405.3</text>
<text x="278" y="328.0" font-size="8.8" fill="#883862" stroke="#883862" stroke-width="0.15" textLength="15.8" lengthAdjust="spacingAndGlyphs">电流</text>
<text x="302" y="328.0" font-size="9.6" fill="#e23f60" stroke="#e23f60" stroke-width="0.15" textLength="11.5" lengthAdjust="spacingAndGlyphs">0.2</text>
<text x="278" y="341.0" font-size="8.8" fill="#883862" stroke="#883862" stroke-width="0.15" textLength="15.8" lengthAdjust="spacingAndGlyphs">水位</text>
<text x="302" y="341.0" font-size="9.6" fill="#e23f60" stroke="#e23f60" stroke-width="0.15" textLength="17.5" lengthAdjust="spacingAndGlyphs">0.00</text>
<text x="278" y="354.0" font-size="8.8" fill="#883862" stroke="#883862" stroke-width="0.15" textLength="15.8" lengthAdjust="spacingAndGlyphs">流量</text>
<text x="302" y="354.0" font-size="9.6" fill="#e23f60" stroke="#e23f60" stroke-width="0.15" textLength="11.5" lengthAdjust="spacingAndGlyphs">0.2</text>
<text x="22" y="388.6" font-size="11.6" fill="#96385c" stroke="#96385c" stroke-width="0.15" textLength="53.5" lengthAdjust="spacingAndGlyphs">香泉水源地</text>
<path d="M136 388.4H165L150.5 384.79999999999995" fill="none" stroke="#2f7068" stroke-width="0.9" stroke-linejoin="miter"/>
<path d="M302 388.4H331L316.5 384.79999999999995" fill="none" stroke="#2f7068" stroke-width="0.9" stroke-linejoin="miter"/>
<path d="M134 481H163L148.5 477.4" fill="none" stroke="#2f7068" stroke-width="0.9" stroke-linejoin="miter"/>
<path d="M304 481H333L318.5 477.4" fill="none" stroke="#2f7068" stroke-width="0.9" stroke-linejoin="miter"/>
<polyline points="35,412 35,392.5 414,392.5" fill="none" stroke="#2589a8" stroke-width="3" stroke-linejoin="miter" stroke-linecap="butt"/>
<polyline points="36,504 36,484.6 361.6,484.6" fill="none" stroke="#2589a8" stroke-width="3" stroke-linejoin="miter" stroke-linecap="butt"/>
<polyline points="361.6,391 361.6,486.1" fill="none" stroke="#2589a8" stroke-width="3" stroke-linejoin="miter" stroke-linecap="butt"/>
<polyline points="361.6,459.2 414,459.2" fill="none" stroke="#2589a8" stroke-width="3" stroke-linejoin="miter" stroke-linecap="butt"/>
<polyline points="114,392.5 114,412" fill="none" stroke="#2589a8" stroke-width="3" stroke-linejoin="miter" stroke-linecap="butt"/>
<polyline points="195,392.5 195,412" fill="none" stroke="#2589a8" stroke-width="3" stroke-linejoin="miter" stroke-linecap="butt"/>
<polyline points="283,392.5 283,412" fill="none" stroke="#2589a8" stroke-width="3" stroke-linejoin="miter" stroke-linecap="butt"/>
<polyline points="115,484.6 115,505" fill="none" stroke="#2589a8" stroke-width="3" stroke-linejoin="miter" stroke-linecap="butt"/>
<polyline points="196,484.6 196,505" fill="none" stroke="#2589a8" stroke-width="3" stroke-linejoin="miter" stroke-linecap="butt"/>
<polyline points="284,484.6 284,505" fill="none" stroke="#2589a8" stroke-width="3" stroke-linejoin="miter" stroke-linecap="butt"/>
<g transform="translate(35 411.8)"><rect x="-3.6" y="0" width="8" height="2.6" fill="url(#gh)" stroke="#4a4f54" stroke-width="0.4"/>
 <rect x="-2.6" y="2.4" width="6" height="12" fill="url(#gh)"/>
 <rect x="14" y="15" width="12.4" height="8.6" fill="url(#gv)"/>
 <rect x="25" y="13.8" width="2.4" height="11" fill="url(#gv)" stroke="#3f4448" stroke-width="0.4"/>
 <path d="M3.2 28.5h11.6l3.4 6.4h-18.4z" fill="url(#gh)"/>
 <rect x="-1.8" y="34.6" width="20.4" height="2.4" fill="#474c50"/>
 <circle cx="9" cy="19" r="10.4" fill="url(#gc)" stroke="#4a4f52" stroke-width="0.7"/>
 <circle cx="9.2" cy="19.3" r="6.8" fill="#f0141c"/></g>
<text x="30.5" y="458.8" font-size="8" fill="#2b2f38" stroke="#2b2f38" stroke-width="0.12" textLength="23.5" lengthAdjust="spacingAndGlyphs">1#泵站</text>
<text x="64" y="410.5" font-size="8.8" fill="#883862" stroke="#883862" stroke-width="0.15" textLength="15.8" lengthAdjust="spacingAndGlyphs">电压</text>
<text x="83" y="410.5" font-size="9.6" fill="#e23f60" stroke="#e23f60" stroke-width="0.15" textLength="20" lengthAdjust="spacingAndGlyphs">405.9</text>
<text x="64" y="423.5" font-size="8.8" fill="#883862" stroke="#883862" stroke-width="0.15" textLength="15.8" lengthAdjust="spacingAndGlyphs">电流</text>
<text x="83" y="423.5" font-size="9.6" fill="#e23f60" stroke="#e23f60" stroke-width="0.15" textLength="11.5" lengthAdjust="spacingAndGlyphs">0.0</text>
<text x="64" y="436.5" font-size="8.8" fill="#883862" stroke="#883862" stroke-width="0.15" textLength="15.8" lengthAdjust="spacingAndGlyphs">水位</text>
<text x="83" y="436.5" font-size="9.6" fill="#e23f60" stroke="#e23f60" stroke-width="0.15" textLength="17.5" lengthAdjust="spacingAndGlyphs">0.00</text>
<text x="64" y="449.5" font-size="8.8" fill="#883862" stroke="#883862" stroke-width="0.15" textLength="15.8" lengthAdjust="spacingAndGlyphs">流量</text>
<text x="83" y="449.5" font-size="9.6" fill="#e23f60" stroke="#e23f60" stroke-width="0.15" textLength="11.5" lengthAdjust="spacingAndGlyphs">0.4</text>
<g transform="translate(114 411.8)"><rect x="-3.6" y="0" width="8" height="2.6" fill="url(#gh)" stroke="#4a4f54" stroke-width="0.4"/>
 <rect x="-2.6" y="2.4" width="6" height="12" fill="url(#gh)"/>
 <rect x="14" y="15" width="12.4" height="8.6" fill="url(#gv)"/>
 <rect x="25" y="13.8" width="2.4" height="11" fill="url(#gv)" stroke="#3f4448" stroke-width="0.4"/>
 <path d="M3.2 28.5h11.6l3.4 6.4h-18.4z" fill="url(#gh)"/>
 <rect x="-1.8" y="34.6" width="20.4" height="2.4" fill="#474c50"/>
 <circle cx="9" cy="19" r="10.4" fill="url(#gc)" stroke="#4a4f52" stroke-width="0.7"/>
 <circle cx="9.2" cy="19.3" r="6.8" fill="#f0141c"/></g>
<text x="109.5" y="458.8" font-size="8" fill="#2b2f38" stroke="#2b2f38" stroke-width="0.12" textLength="23.5" lengthAdjust="spacingAndGlyphs">2#泵站</text>
<text x="143" y="410.5" font-size="8.8" fill="#883862" stroke="#883862" stroke-width="0.15" textLength="15.8" lengthAdjust="spacingAndGlyphs">电压</text>
<text x="163" y="410.5" font-size="9.6" fill="#e23f60" stroke="#e23f60" stroke-width="0.15" textLength="20" lengthAdjust="spacingAndGlyphs">371.1</text>
<text x="143" y="423.5" font-size="8.8" fill="#883862" stroke="#883862" stroke-width="0.15" textLength="15.8" lengthAdjust="spacingAndGlyphs">电流</text>
<text x="163" y="423.5" font-size="9.6" fill="#e23f60" stroke="#e23f60" stroke-width="0.15" textLength="11.5" lengthAdjust="spacingAndGlyphs">0.0</text>
<text x="143" y="436.5" font-size="8.8" fill="#883862" stroke="#883862" stroke-width="0.15" textLength="15.8" lengthAdjust="spacingAndGlyphs">水位</text>
<text x="163" y="436.5" font-size="9.6" fill="#e23f60" stroke="#e23f60" stroke-width="0.15" textLength="17.5" lengthAdjust="spacingAndGlyphs">0.00</text>
<text x="143" y="449.5" font-size="8.8" fill="#883862" stroke="#883862" stroke-width="0.15" textLength="15.8" lengthAdjust="spacingAndGlyphs">流量</text>
<text x="163" y="449.5" font-size="9.6" fill="#e23f60" stroke="#e23f60" stroke-width="0.15" textLength="11.5" lengthAdjust="spacingAndGlyphs">1.0</text>
<g transform="translate(195 411.8)"><rect x="-3.6" y="0" width="8" height="2.6" fill="url(#gh)" stroke="#4a4f54" stroke-width="0.4"/>
 <rect x="-2.6" y="2.4" width="6" height="12" fill="url(#gh)"/>
 <rect x="14" y="15" width="12.4" height="8.6" fill="url(#gv)"/>
 <rect x="25" y="13.8" width="2.4" height="11" fill="url(#gv)" stroke="#3f4448" stroke-width="0.4"/>
 <path d="M3.2 28.5h11.6l3.4 6.4h-18.4z" fill="url(#gh)"/>
 <rect x="-1.8" y="34.6" width="20.4" height="2.4" fill="#474c50"/>
 <circle cx="9" cy="19" r="10.4" fill="url(#gc)" stroke="#4a4f52" stroke-width="0.7"/>
 <circle cx="9.2" cy="19.3" r="6.8" fill="#f0141c"/></g>
<text x="190.5" y="458.8" font-size="8" fill="#2b2f38" stroke="#2b2f38" stroke-width="0.12" textLength="23.5" lengthAdjust="spacingAndGlyphs">3#泵站</text>
<text x="227" y="410.5" font-size="8.8" fill="#883862" stroke="#883862" stroke-width="0.15" textLength="15.8" lengthAdjust="spacingAndGlyphs">电压</text>
<text x="246" y="410.5" font-size="9.6" fill="#e23f60" stroke="#e23f60" stroke-width="0.15" textLength="11.5" lengthAdjust="spacingAndGlyphs">0.0</text>
<text x="227" y="423.5" font-size="8.8" fill="#883862" stroke="#883862" stroke-width="0.15" textLength="15.8" lengthAdjust="spacingAndGlyphs">电流</text>
<text x="246" y="423.5" font-size="9.6" fill="#e23f60" stroke="#e23f60" stroke-width="0.15" textLength="11.5" lengthAdjust="spacingAndGlyphs">0.0</text>
<text x="227" y="436.5" font-size="8.8" fill="#883862" stroke="#883862" stroke-width="0.15" textLength="15.8" lengthAdjust="spacingAndGlyphs">水位</text>
<text x="246" y="436.5" font-size="9.6" fill="#e23f60" stroke="#e23f60" stroke-width="0.15" textLength="17.5" lengthAdjust="spacingAndGlyphs">0.00</text>
<text x="227" y="449.5" font-size="8.8" fill="#883862" stroke="#883862" stroke-width="0.15" textLength="15.8" lengthAdjust="spacingAndGlyphs">流量</text>
<text x="246" y="449.5" font-size="9.6" fill="#e23f60" stroke="#e23f60" stroke-width="0.15" textLength="17.5" lengthAdjust="spacingAndGlyphs">0.00</text>
<g transform="translate(283 411.8)"><rect x="-3.6" y="0" width="8" height="2.6" fill="url(#gh)" stroke="#4a4f54" stroke-width="0.4"/>
 <rect x="-2.6" y="2.4" width="6" height="12" fill="url(#gh)"/>
 <rect x="14" y="15" width="12.4" height="8.6" fill="url(#gv)"/>
 <rect x="25" y="13.8" width="2.4" height="11" fill="url(#gv)" stroke="#3f4448" stroke-width="0.4"/>
 <path d="M3.2 28.5h11.6l3.4 6.4h-18.4z" fill="url(#gh)"/>
 <rect x="-1.8" y="34.6" width="20.4" height="2.4" fill="#474c50"/>
 <circle cx="9" cy="19" r="10.4" fill="url(#gc)" stroke="#4a4f52" stroke-width="0.7"/>
 <circle cx="9.2" cy="19.3" r="6.8" fill="#f0141c"/></g>
<text x="278.5" y="458.8" font-size="8" fill="#2b2f38" stroke="#2b2f38" stroke-width="0.12" textLength="23.5" lengthAdjust="spacingAndGlyphs">4#泵站</text>
<text x="315" y="410.5" font-size="8.8" fill="#883862" stroke="#883862" stroke-width="0.15" textLength="15.8" lengthAdjust="spacingAndGlyphs">电压</text>
<text x="334" y="410.5" font-size="9.6" fill="#e23f60" stroke="#e23f60" stroke-width="0.15" textLength="11.5" lengthAdjust="spacingAndGlyphs">0.0</text>
<text x="315" y="423.5" font-size="8.8" fill="#883862" stroke="#883862" stroke-width="0.15" textLength="15.8" lengthAdjust="spacingAndGlyphs">电流</text>
<text x="334" y="423.5" font-size="9.6" fill="#e23f60" stroke="#e23f60" stroke-width="0.15" textLength="11.5" lengthAdjust="spacingAndGlyphs">0.0</text>
<text x="315" y="436.5" font-size="8.8" fill="#883862" stroke="#883862" stroke-width="0.15" textLength="15.8" lengthAdjust="spacingAndGlyphs">水位</text>
<text x="334" y="436.5" font-size="9.6" fill="#e23f60" stroke="#e23f60" stroke-width="0.15" textLength="17.5" lengthAdjust="spacingAndGlyphs">0.00</text>
<text x="315" y="449.5" font-size="8.8" fill="#883862" stroke="#883862" stroke-width="0.15" textLength="15.8" lengthAdjust="spacingAndGlyphs">流量</text>
<text x="334" y="449.5" font-size="9.6" fill="#e23f60" stroke="#e23f60" stroke-width="0.15" textLength="11.5" lengthAdjust="spacingAndGlyphs">0.0</text>
<g transform="translate(36 504)"><rect x="-3.6" y="0" width="8" height="2.6" fill="url(#gh)" stroke="#4a4f54" stroke-width="0.4"/>
 <rect x="-2.6" y="2.4" width="6" height="12" fill="url(#gh)"/>
 <rect x="14" y="15" width="12.4" height="8.6" fill="url(#gv)"/>
 <rect x="25" y="13.8" width="2.4" height="11" fill="url(#gv)" stroke="#3f4448" stroke-width="0.4"/>
 <path d="M3.2 28.5h11.6l3.4 6.4h-18.4z" fill="url(#gh)"/>
 <rect x="-1.8" y="34.6" width="20.4" height="2.4" fill="#474c50"/>
 <circle cx="9" cy="19" r="10.4" fill="url(#gc)" stroke="#4a4f52" stroke-width="0.7"/>
 <circle cx="9.2" cy="19.3" r="6.8" fill="#f0141c"/></g>
<text x="32" y="551.6" font-size="8" fill="#2b2f38" stroke="#2b2f38" stroke-width="0.12" textLength="23.5" lengthAdjust="spacingAndGlyphs">5#泵站</text>
<text x="65" y="503.5" font-size="8.8" fill="#883862" stroke="#883862" stroke-width="0.15" textLength="15.8" lengthAdjust="spacingAndGlyphs">电压</text>
<text x="86" y="503.5" font-size="9.6" fill="#e23f60" stroke="#e23f60" stroke-width="0.15" textLength="20" lengthAdjust="spacingAndGlyphs">389.1</text>
<text x="65" y="516.2" font-size="8.8" fill="#883862" stroke="#883862" stroke-width="0.15" textLength="15.8" lengthAdjust="spacingAndGlyphs">电流</text>
<text x="86" y="516.2" font-size="9.6" fill="#e23f60" stroke="#e23f60" stroke-width="0.15" textLength="11.5" lengthAdjust="spacingAndGlyphs">0.1</text>
<text x="65" y="528.9" font-size="8.8" fill="#883862" stroke="#883862" stroke-width="0.15" textLength="15.8" lengthAdjust="spacingAndGlyphs">水位</text>
<text x="86" y="528.9" font-size="9.6" fill="#e23f60" stroke="#e23f60" stroke-width="0.15" textLength="17.5" lengthAdjust="spacingAndGlyphs">0.00</text>
<text x="65" y="542.3" font-size="8.8" fill="#883862" stroke="#883862" stroke-width="0.15" textLength="15.8" lengthAdjust="spacingAndGlyphs">流量</text>
<text x="86" y="542.3" font-size="9.6" fill="#e23f60" stroke="#e23f60" stroke-width="0.15" textLength="11.5" lengthAdjust="spacingAndGlyphs">0.4</text>
<g transform="translate(115 504)"><rect x="-3.6" y="0" width="8" height="2.6" fill="url(#gh)" stroke="#4a4f54" stroke-width="0.4"/>
 <rect x="-2.6" y="2.4" width="6" height="12" fill="url(#gh)"/>
 <rect x="14" y="15" width="12.4" height="8.6" fill="url(#gv)"/>
 <rect x="25" y="13.8" width="2.4" height="11" fill="url(#gv)" stroke="#3f4448" stroke-width="0.4"/>
 <path d="M3.2 28.5h11.6l3.4 6.4h-18.4z" fill="url(#gh)"/>
 <rect x="-1.8" y="34.6" width="20.4" height="2.4" fill="#474c50"/>
 <circle cx="9" cy="19" r="10.4" fill="url(#gc)" stroke="#4a4f52" stroke-width="0.7"/>
 <circle cx="9.2" cy="19.3" r="6.8" fill="#f0141c"/></g>
<text x="109" y="552.6" font-size="8" fill="#2b2f38" stroke="#2b2f38" stroke-width="0.12" textLength="27.5" lengthAdjust="spacingAndGlyphs">11#泵站</text>
<text x="145" y="503.0" font-size="8.8" fill="#883862" stroke="#883862" stroke-width="0.15" textLength="15.8" lengthAdjust="spacingAndGlyphs">电压</text>
<text x="164" y="503.0" font-size="9.6" fill="#e23f60" stroke="#e23f60" stroke-width="0.15" textLength="11.5" lengthAdjust="spacingAndGlyphs">0.0</text>
<text x="145" y="515.7" font-size="8.8" fill="#883862" stroke="#883862" stroke-width="0.15" textLength="15.8" lengthAdjust="spacingAndGlyphs">电流</text>
<text x="164" y="515.7" font-size="9.6" fill="#e23f60" stroke="#e23f60" stroke-width="0.15" textLength="11.5" lengthAdjust="spacingAndGlyphs">0.0</text>
<text x="145" y="528.5" font-size="8.8" fill="#883862" stroke="#883862" stroke-width="0.15" textLength="15.8" lengthAdjust="spacingAndGlyphs">水位</text>
<text x="164" y="528.5" font-size="9.6" fill="#e23f60" stroke="#e23f60" stroke-width="0.15" textLength="17.5" lengthAdjust="spacingAndGlyphs">0.00</text>
<text x="145" y="541.9" font-size="8.8" fill="#883862" stroke="#883862" stroke-width="0.15" textLength="15.8" lengthAdjust="spacingAndGlyphs">流量</text>
<text x="164" y="541.9" font-size="9.6" fill="#e23f60" stroke="#e23f60" stroke-width="0.15" textLength="11.5" lengthAdjust="spacingAndGlyphs">0.0</text>
<g transform="translate(196 504)"><rect x="-3.6" y="0" width="8" height="2.6" fill="url(#gh)" stroke="#4a4f54" stroke-width="0.4"/>
 <rect x="-2.6" y="2.4" width="6" height="12" fill="url(#gh)"/>
 <rect x="14" y="15" width="12.4" height="8.6" fill="url(#gv)"/>
 <rect x="25" y="13.8" width="2.4" height="11" fill="url(#gv)" stroke="#3f4448" stroke-width="0.4"/>
 <path d="M3.2 28.5h11.6l3.4 6.4h-18.4z" fill="url(#gh)"/>
 <rect x="-1.8" y="34.6" width="20.4" height="2.4" fill="#474c50"/>
 <circle cx="9" cy="19" r="10.4" fill="url(#gc)" stroke="#4a4f52" stroke-width="0.7"/>
 <circle cx="9.2" cy="19.3" r="6.8" fill="#f0141c"/></g>
<text x="190" y="552.6" font-size="8" fill="#2b2f38" stroke="#2b2f38" stroke-width="0.12" textLength="27.5" lengthAdjust="spacingAndGlyphs">13#泵站</text>
<text x="228" y="503.0" font-size="8.8" fill="#883862" stroke="#883862" stroke-width="0.15" textLength="15.8" lengthAdjust="spacingAndGlyphs">电压</text>
<text x="248" y="503.0" font-size="9.6" fill="#e23f60" stroke="#e23f60" stroke-width="0.15" textLength="11.5" lengthAdjust="spacingAndGlyphs">???</text>
<text x="228" y="515.7" font-size="8.8" fill="#883862" stroke="#883862" stroke-width="0.15" textLength="15.8" lengthAdjust="spacingAndGlyphs">电流</text>
<text x="248" y="515.7" font-size="9.6" fill="#e23f60" stroke="#e23f60" stroke-width="0.15" textLength="11.5" lengthAdjust="spacingAndGlyphs">???</text>
<text x="228" y="528.5" font-size="8.8" fill="#883862" stroke="#883862" stroke-width="0.15" textLength="15.8" lengthAdjust="spacingAndGlyphs">水位</text>
<text x="248" y="528.5" font-size="9.6" fill="#e23f60" stroke="#e23f60" stroke-width="0.15" textLength="11.5" lengthAdjust="spacingAndGlyphs">???</text>
<text x="228" y="541.9" font-size="8.8" fill="#883862" stroke="#883862" stroke-width="0.15" textLength="15.8" lengthAdjust="spacingAndGlyphs">流量</text>
<text x="248" y="541.9" font-size="9.6" fill="#e23f60" stroke="#e23f60" stroke-width="0.15" textLength="11.5" lengthAdjust="spacingAndGlyphs">???</text>
<g transform="translate(284 504)"><rect x="-3.6" y="0" width="8" height="2.6" fill="url(#gh)" stroke="#4a4f54" stroke-width="0.4"/>
 <rect x="-2.6" y="2.4" width="6" height="12" fill="url(#gh)"/>
 <rect x="14" y="15" width="12.4" height="8.6" fill="url(#gv)"/>
 <rect x="25" y="13.8" width="2.4" height="11" fill="url(#gv)" stroke="#3f4448" stroke-width="0.4"/>
 <path d="M3.2 28.5h11.6l3.4 6.4h-18.4z" fill="url(#gh)"/>
 <rect x="-1.8" y="34.6" width="20.4" height="2.4" fill="#474c50"/>
 <circle cx="9" cy="19" r="10.4" fill="url(#gc)" stroke="#4a4f52" stroke-width="0.7"/>
 <circle cx="9.2" cy="19.3" r="6.8" fill="#f0141c"/></g>
<text x="278" y="552.6" font-size="8" fill="#2b2f38" stroke="#2b2f38" stroke-width="0.12" textLength="27.5" lengthAdjust="spacingAndGlyphs">14#泵站</text>
<text x="318" y="503.0" font-size="8.8" fill="#883862" stroke="#883862" stroke-width="0.15" textLength="15.8" lengthAdjust="spacingAndGlyphs">电压</text>
<text x="337" y="503.0" font-size="9.6" fill="#e23f60" stroke="#e23f60" stroke-width="0.15" textLength="11.5" lengthAdjust="spacingAndGlyphs">0.0</text>
<text x="318" y="515.7" font-size="8.8" fill="#883862" stroke="#883862" stroke-width="0.15" textLength="15.8" lengthAdjust="spacingAndGlyphs">电流</text>
<text x="337" y="515.7" font-size="9.6" fill="#e23f60" stroke="#e23f60" stroke-width="0.15" textLength="11.5" lengthAdjust="spacingAndGlyphs">0.0</text>
<text x="318" y="528.5" font-size="8.8" fill="#883862" stroke="#883862" stroke-width="0.15" textLength="15.8" lengthAdjust="spacingAndGlyphs">水位</text>
<text x="337" y="528.5" font-size="9.6" fill="#e23f60" stroke="#e23f60" stroke-width="0.15" textLength="17.5" lengthAdjust="spacingAndGlyphs">0.00</text>
<text x="318" y="541.9" font-size="8.8" fill="#883862" stroke="#883862" stroke-width="0.15" textLength="15.8" lengthAdjust="spacingAndGlyphs">流量</text>
<text x="337" y="541.9" font-size="9.6" fill="#e23f60" stroke="#e23f60" stroke-width="0.15" textLength="17.5" lengthAdjust="spacingAndGlyphs">0.00</text>
<text x="375" y="389.6" font-size="5.6" fill="#2b2f38" stroke="#2b2f38" stroke-width="0.1" textLength="16.5" lengthAdjust="spacingAndGlyphs">DN300</text>
<text x="375" y="456.6" font-size="5.6" fill="#2b2f38" stroke="#2b2f38" stroke-width="0.1" textLength="16.5" lengthAdjust="spacingAndGlyphs">DN350</text>
<polyline points="414,392.5 414,366 437,366" fill="none" stroke="#2589a8" stroke-width="3" stroke-linejoin="miter" stroke-linecap="butt"/>
<polyline points="414,392 414,460.7" fill="none" stroke="#2589a8" stroke-width="3" stroke-linejoin="miter" stroke-linecap="butt"/>
<polyline points="414,448.5 437,448.5" fill="none" stroke="#2589a8" stroke-width="3" stroke-linejoin="miter" stroke-linecap="butt"/>
<path d="M409 408.4L414 415.2L419 408.4ZM409 422.0L414 415.2L419 422.0Z" fill="#dcefef" stroke="#23343c" stroke-width="1" stroke-linejoin="miter"/>
<rect x="437.2" y="360.4" width="51.0" height="54.80000000000001" fill="#0cbef9"/>
<path d="M437.2 356V415.2H488.2V356" fill="none" stroke="#15252e" stroke-width="1.8" stroke-linejoin="miter"/>
<text x="462.7" y="412.59999999999997" font-size="5.6" fill="#1d4f7a" stroke="#1d4f7a" stroke-width="0.1" textLength="19" lengthAdjust="spacingAndGlyphs" text-anchor="middle">2000m3</text>
<rect x="437.2" y="445.4" width="51.0" height="53.80000000000001" fill="#0cbef9"/>
<path d="M437.2 441V499.2H488.2V441" fill="none" stroke="#15252e" stroke-width="1.8" stroke-linejoin="miter"/>
<text x="462.7" y="496.59999999999997" font-size="5.6" fill="#1d4f7a" stroke="#1d4f7a" stroke-width="0.1" textLength="19" lengthAdjust="spacingAndGlyphs" text-anchor="middle">2000m3</text>
<path d="M417.8 361.4L425 366L417.8 370.6ZM432.2 361.4L425 366L432.2 370.6Z" fill="#dcefef" stroke="#23343c" stroke-width="1" stroke-linejoin="miter"/>
<path d="M425 366V355M418.2 355H431.8" fill="none" stroke="#1b242a" stroke-width="1.05"/>
<path d="M417.8 443.9L425 448.5L417.8 453.1ZM432.2 443.9L425 448.5L432.2 453.1Z" fill="#dcefef" stroke="#23343c" stroke-width="1" stroke-linejoin="miter"/>
<path d="M425 448.5V437.5M418.2 437.5H431.8" fill="none" stroke="#1b242a" stroke-width="1.05"/>
<polyline points="488,409 515.5,409 515.5,406 724,406" fill="none" stroke="#2589a8" stroke-width="3" stroke-linejoin="miter" stroke-linecap="butt"/>
<polyline points="488,490 515.5,490 515.5,496 724,496" fill="none" stroke="#2589a8" stroke-width="3" stroke-linejoin="miter" stroke-linecap="butt"/>
<polyline points="515.5,409 515.5,490" fill="none" stroke="#2589a8" stroke-width="3" stroke-linejoin="miter" stroke-linecap="butt"/>
<polyline points="515.5,451 724,451" fill="none" stroke="#2589a8" stroke-width="3" stroke-linejoin="miter" stroke-linecap="butt"/>
<path d="M533.3 401.4L540.5 406L533.3 410.6ZM547.7 401.4L540.5 406L547.7 410.6Z" fill="#dcefef" stroke="#23343c" stroke-width="1" stroke-linejoin="miter"/>
<path d="M540.5 406V395M533.7 395H547.3" fill="none" stroke="#1b242a" stroke-width="1.05"/>
<path d="M702.3 401.4L709.5 406L702.3 410.6ZM716.7 401.4L709.5 406L716.7 410.6Z" fill="#dcefef" stroke="#23343c" stroke-width="1" stroke-linejoin="miter"/>
<path d="M709.5 406V395M702.7 395H716.3" fill="none" stroke="#1b242a" stroke-width="1.05"/>
<path d="M533.3 446.4L540.5 451L533.3 455.6ZM547.7 446.4L540.5 451L547.7 455.6Z" fill="#dcefef" stroke="#23343c" stroke-width="1" stroke-linejoin="miter"/>
<path d="M540.5 451V440M533.7 440H547.3" fill="none" stroke="#1b242a" stroke-width="1.05"/>
<path d="M702.3 446.4L709.5 451L702.3 455.6ZM716.7 446.4L709.5 451L716.7 455.6Z" fill="#dcefef" stroke="#23343c" stroke-width="1" stroke-linejoin="miter"/>
<path d="M709.5 451V440M702.7 440H716.3" fill="none" stroke="#1b242a" stroke-width="1.05"/>
<path d="M533.3 491.4L540.5 496L533.3 500.6ZM547.7 491.4L540.5 496L547.7 500.6Z" fill="#dcefef" stroke="#23343c" stroke-width="1" stroke-linejoin="miter"/>
<path d="M540.5 496V485M533.7 485H547.3" fill="none" stroke="#1b242a" stroke-width="1.05"/>
<path d="M702.3 491.4L709.5 496L702.3 500.6ZM716.7 491.4L709.5 496L716.7 500.6Z" fill="#dcefef" stroke="#23343c" stroke-width="1" stroke-linejoin="miter"/>
<path d="M709.5 496V485M702.7 485H716.3" fill="none" stroke="#1b242a" stroke-width="1.05"/>
<text font-size="7.4" fill="#2b2f38" stroke="#2b2f38" stroke-width="0.12" text-anchor="middle"><tspan x="494.8" y="380.0">一</tspan><tspan x="494.8" y="388.1">号</tspan><tspan x="494.8" y="396.2">库</tspan></text>
<text font-size="7.4" fill="#2b2f38" stroke="#2b2f38" stroke-width="0.12" text-anchor="middle"><tspan x="494.8" y="462.4">二</tspan><tspan x="494.8" y="470.5">号</tspan><tspan x="494.8" y="478.6">库</tspan></text>
<text x="448" y="426.6" font-size="9.6" fill="#e23f60" stroke="#e23f60" stroke-width="0.15" textLength="18" lengthAdjust="spacingAndGlyphs">#.##</text>
<text x="468" y="426.6" font-size="10.4" fill="#883862" stroke="#883862" stroke-width="0.15">m</text>
<text x="446" y="511.6" font-size="9.6" fill="#e23f60" stroke="#e23f60" stroke-width="0.15" textLength="18" lengthAdjust="spacingAndGlyphs">#.##</text>
<text x="466.5" y="511.6" font-size="10.4" fill="#883862" stroke="#883862" stroke-width="0.15">m</text>
<text x="499" y="525" font-size="9.6" fill="#2b2f38" stroke="#2b2f38" stroke-width="0.15" textLength="36" lengthAdjust="spacingAndGlyphs">出水参数</text>
<text x="495" y="541.4" font-size="9.6" fill="#e23f60" stroke="#e23f60" stroke-width="0.15" textLength="16.5" lengthAdjust="spacingAndGlyphs">余氯</text>
<text x="518" y="541" font-size="9.6" fill="#e23f60" stroke="#e23f60" stroke-width="0.15" textLength="19" lengthAdjust="spacingAndGlyphs">####</text>
<text x="420" y="550.4" font-size="11.6" fill="#a84464" stroke="#a84464" stroke-width="0.15" textLength="53.5" lengthAdjust="spacingAndGlyphs">香泉配水厂</text>
<text x="625" y="554.4" font-size="11.6" fill="#5d4d58" stroke="#5d4d58" stroke-width="0.15" textLength="54" lengthAdjust="spacingAndGlyphs">西川计量站</text>
<text x="616" y="397.6" font-size="10.3" fill="#e23f60" stroke="#e23f60" stroke-width="0.15" textLength="16" lengthAdjust="spacingAndGlyphs">408</text>
<text x="636" y="397.4" font-size="10.4" fill="#883862" stroke="#883862" stroke-width="0.15" textLength="23" lengthAdjust="spacingAndGlyphs">m3/h</text>
<text x="562.5" y="412.8" font-size="5.6" fill="#2b2f38" stroke="#2b2f38" stroke-width="0.1" textLength="16.5" lengthAdjust="spacingAndGlyphs">DN600</text>
<path d="M580 410.6H610L595.5 414.20000000000005" fill="none" stroke="#2f7068" stroke-width="0.9" stroke-linejoin="miter"/>
<text x="590.5" y="422" font-size="10.3" fill="#e23f60" stroke="#e23f60" stroke-width="0.15" textLength="15.8" lengthAdjust="spacingAndGlyphs">000</text>
<text x="617" y="421" font-size="10.4" fill="#883862" stroke="#883862" stroke-width="0.15" textLength="23" lengthAdjust="spacingAndGlyphs">m3/h</text>
<text x="650" y="421" font-size="10.3" fill="#e23f60" stroke="#e23f60" stroke-width="0.15" textLength="17.5" lengthAdjust="spacingAndGlyphs">0.00</text>
<text x="674" y="421" font-size="10.4" fill="#883862" stroke="#883862" stroke-width="0.15" textLength="19.5" lengthAdjust="spacingAndGlyphs">Mpa</text>
<text x="562.5" y="457.8" font-size="5.6" fill="#2b2f38" stroke="#2b2f38" stroke-width="0.1" textLength="16.5" lengthAdjust="spacingAndGlyphs">DN400</text>
<path d="M580 455.6H610L595.5 459.20000000000005" fill="none" stroke="#2f7068" stroke-width="0.9" stroke-linejoin="miter"/>
<text x="590.5" y="467" font-size="10.3" fill="#e23f60" stroke="#e23f60" stroke-width="0.15" textLength="15.8" lengthAdjust="spacingAndGlyphs">000</text>
<text x="617" y="466" font-size="10.4" fill="#883862" stroke="#883862" stroke-width="0.15" textLength="23" lengthAdjust="spacingAndGlyphs">m3/h</text>
<text x="650" y="466" font-size="10.3" fill="#e23f60" stroke="#e23f60" stroke-width="0.15" textLength="17.5" lengthAdjust="spacingAndGlyphs">0.00</text>
<text x="674" y="466" font-size="10.4" fill="#883862" stroke="#883862" stroke-width="0.15" textLength="19.5" lengthAdjust="spacingAndGlyphs">Mpa</text>
<text x="562.5" y="502.8" font-size="5.6" fill="#2b2f38" stroke="#2b2f38" stroke-width="0.1" textLength="16.5" lengthAdjust="spacingAndGlyphs">DN300</text>
<path d="M580 500.6H610L595.5 504.20000000000005" fill="none" stroke="#2f7068" stroke-width="0.9" stroke-linejoin="miter"/>
<text x="590.5" y="512" font-size="10.3" fill="#e23f60" stroke="#e23f60" stroke-width="0.15" textLength="15.8" lengthAdjust="spacingAndGlyphs">000</text>
<text x="617" y="511" font-size="10.4" fill="#883862" stroke="#883862" stroke-width="0.15" textLength="23" lengthAdjust="spacingAndGlyphs">m3/h</text>
<text x="650" y="511" font-size="10.3" fill="#e23f60" stroke="#e23f60" stroke-width="0.15" textLength="17.5" lengthAdjust="spacingAndGlyphs">0.00</text>
<text x="674" y="511" font-size="10.4" fill="#883862" stroke="#883862" stroke-width="0.15" textLength="19.5" lengthAdjust="spacingAndGlyphs">Mpa</text>
<path d="M0 574.5H1072" stroke="#94abba" stroke-width="1.4"/><path d="M0 576H1072" stroke="#e3f3fc" stroke-width="1"/>
<rect x="33.5" y="585" width="63.0" height="22.5" fill="#d5edfb"/>
<path d="M33.5 607.5V585H96.5" fill="none" stroke="#f4fbff" stroke-width="1.4"/>
<path d="M33.5 607.5H96.5V585" fill="none" stroke="#7f909e" stroke-width="1.3"/>
<text x="43" y="599.85" font-size="9.4" fill="#2c3640" stroke="#2c3640" stroke-width="0.15" textLength="45" lengthAdjust="spacingAndGlyphs">监控总画面</text>
<rect x="120" y="584.5" width="64.5" height="22.0" fill="#d5edfb"/>
<path d="M120 606.5V584.5H184.5" fill="none" stroke="#f4fbff" stroke-width="1.4"/>
<path d="M120 606.5H184.5V584.5" fill="none" stroke="#7f909e" stroke-width="1.3"/>
<text x="131" y="599.1" font-size="9.4" fill="#2c3640" stroke="#2c3640" stroke-width="0.15" textLength="43" lengthAdjust="spacing">报表系统</text>
<rect x="209" y="585" width="62" height="22.5" fill="#d5edfb"/>
<path d="M209 607.5V585H271" fill="none" stroke="#f4fbff" stroke-width="1.4"/>
<path d="M209 607.5H271V585" fill="none" stroke="#7f909e" stroke-width="1.3"/>
<text x="226" y="599.85" font-size="9.4" fill="#2c3640" stroke="#2c3640" stroke-width="0.15" textLength="28" lengthAdjust="spacingAndGlyphs">水源地</text>
<rect x="299" y="586" width="58" height="22.5" fill="#d5edfb"/>
<path d="M299 608.5V586H357" fill="none" stroke="#f4fbff" stroke-width="1.4"/>
<path d="M299 608.5H357V586" fill="none" stroke="#7f909e" stroke-width="1.3"/>
<text x="310" y="600.85" font-size="9.4" fill="#2c3640" stroke="#2c3640" stroke-width="0.15" textLength="36" lengthAdjust="spacingAndGlyphs">马河水厂</text>
<rect x="384" y="586" width="80" height="22.5" fill="#d5edfb"/>
<path d="M384 608.5V586H464" fill="none" stroke="#f4fbff" stroke-width="1.4"/>
<path d="M384 608.5H464V586" fill="none" stroke="#7f909e" stroke-width="1.3"/>
<text x="392" y="600.85" font-size="9.4" fill="#2c3640" stroke="#2c3640" stroke-width="0.15" textLength="63.5" lengthAdjust="spacingAndGlyphs">污水厂提升泵站</text>
<rect x="488" y="586" width="57" height="22.5" fill="#d5edfb"/>
<path d="M488 608.5V586H545" fill="none" stroke="#f4fbff" stroke-width="1.4"/>
<path d="M488 608.5H545V586" fill="none" stroke="#7f909e" stroke-width="1.3"/>
<text x="497" y="600.85" font-size="9.4" fill="#2c3640" stroke="#2c3640" stroke-width="0.15" textLength="38" lengthAdjust="spacingAndGlyphs">退出系统</text>
<rect x="563.5" y="586" width="57.5" height="22.5" fill="#d5edfb"/>
<path d="M563.5 608.5V586H621" fill="none" stroke="#f4fbff" stroke-width="1.4"/>
<path d="M563.5 608.5H621V586" fill="none" stroke="#7f909e" stroke-width="1.3"/>
<text x="574" y="600.85" font-size="9.4" fill="#2c3640" stroke="#2c3640" stroke-width="0.15" textLength="37" lengthAdjust="spacingAndGlyphs">登录系统</text>
<text x="639" y="601.6" font-size="9.4" fill="#1446c8" textLength="61" lengthAdjust="spacingAndGlyphs" font-weight="bold" font-family='"Liberation Serif","Noto Serif CJK SC",serif'>当前登录用户:</text>
<text x="710" y="601.6" font-size="9.6" fill="#1446c8" textLength="35.5" lengthAdjust="spacing" font-weight="bold" font-family='"Liberation Serif","Noto Serif CJK SC",serif'>KVUser1</text>
</svg>
</body></html>
